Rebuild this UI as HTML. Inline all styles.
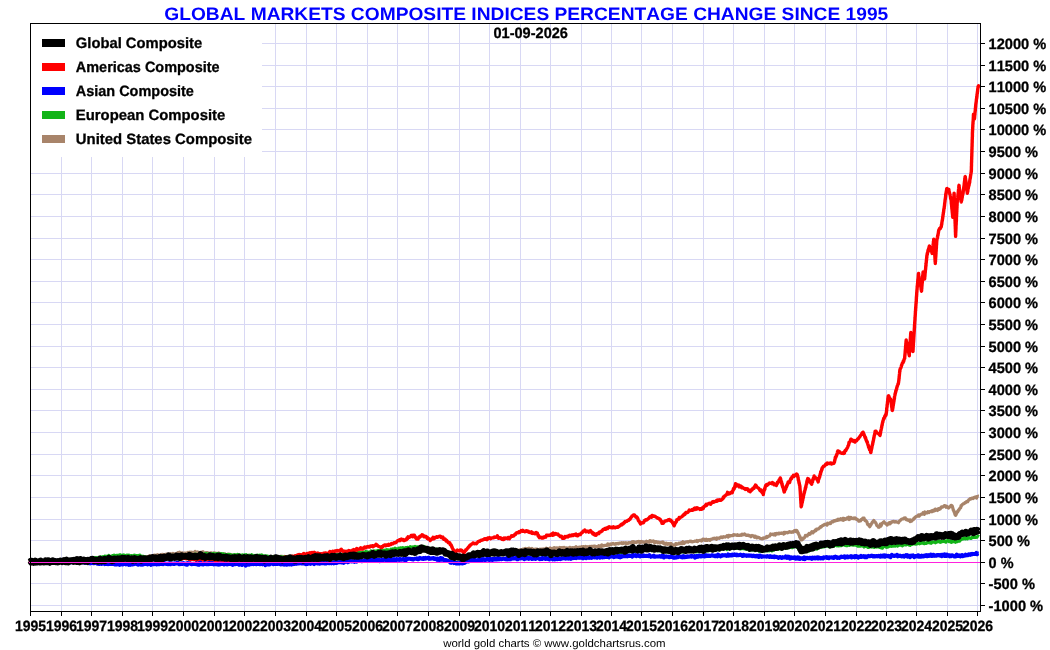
<!DOCTYPE html><html><head><meta charset="utf-8"><style>html,body{margin:0;padding:0;background:#fff;}svg{display:block;}text{font-family:"Liberation Sans",Arial,sans-serif;font-weight:bold;font-kerning:none;text-rendering:geometricPrecision;}text.b{stroke:#000;stroke-width:0.3px;}</style></head><body>
<svg width="1050" height="650" viewBox="0 0 1050 650">
<rect width="1050" height="650" fill="#fff"/>
<path d="M61.5 24V611 M91.5 24V611 M122.5 24V611 M152.5 24V611 M183.5 24V611 M214.5 24V611 M244.5 24V611 M275.5 24V611 M306.5 24V611 M336.5 24V611 M367.5 24V611 M397.5 24V611 M428.5 24V611 M459.5 24V611 M489.5 24V611 M520.5 24V611 M550.5 24V611 M581.5 24V611 M611.5 24V611 M641.5 24V611 M672.5 24V611 M703.5 24V611 M733.5 24V611 M764.5 24V611 M794.5 24V611 M825.5 24V611 M856.5 24V611 M886.5 24V611 M916.5 24V611 M947.5 24V611 M977.5 24V611 M31 43.5H980 M31 65.5H980 M31 86.5H980 M31 108.5H980 M31 129.5H980 M31 151.5H980 M31 173.5H980 M31 194.5H980 M31 216.5H980 M31 238.5H980 M31 259.5H980 M31 281.5H980 M31 302.5H980 M31 324.5H980 M31 346.5H980 M31 367.5H980 M31 389.5H980 M31 410.5H980 M31 432.5H980 M31 454.5H980 M31 475.5H980 M31 497.5H980 M31 519.5H980 M31 540.5H980 M31 562.5H980 M31 583.5H980 M31 605.5H980" stroke="#d8d8f4" stroke-width="1" fill="none"/>
<rect x="31" y="24" width="231" height="133" fill="#fff"/>
<path d="M30.0 562.0 30.6 562.0 31.2 562.1 31.8 561.8 32.4 561.5 33.0 561.7 33.6 561.5 34.2 561.9 34.8 562.5 35.4 561.6 36.0 561.5 36.6 562.0 37.2 562.0 37.8 561.8 38.4 561.3 39.0 561.7 39.6 562.0 40.2 561.1 40.8 561.5 41.4 560.8 42.0 561.1 42.6 560.8 43.2 561.5 43.8 561.0 44.4 561.7 45.0 561.6 45.6 561.5 46.2 560.4 46.8 561.3 47.4 561.5 47.9 561.5 48.5 560.8 49.1 561.2 49.7 561.0 50.3 561.1 50.9 561.9 51.5 561.0 52.1 561.4 52.7 561.7 53.3 561.1 53.9 561.3 54.5 561.3 55.1 561.3 55.7 560.7 56.3 561.3 56.9 561.8 57.5 560.5 58.1 561.6 58.7 561.2 59.3 560.9 59.9 562.0 60.5 561.5 61.1 560.6 61.7 561.1 62.3 561.3 62.9 561.0 63.5 561.4 64.1 561.0 64.7 561.3 65.3 561.6 65.9 560.7 66.5 561.0 67.1 560.7 67.7 561.0 68.3 560.4 68.9 560.6 69.5 560.8 70.1 561.3 70.7 561.4 71.3 560.2 71.9 560.4 72.5 561.1 73.1 559.9 73.7 560.5 74.3 560.7 74.9 561.3 75.5 561.0 76.1 560.5 76.7 560.5 77.3 560.5 77.9 561.3 78.5 560.4 79.1 560.5 79.7 560.7 80.3 560.5 80.9 560.5 81.5 560.0 82.1 560.5 82.6 560.3 83.2 561.0 83.8 560.8 84.4 560.4 85.0 560.7 85.6 560.3 86.2 560.9 86.8 560.4 87.4 560.6 88.0 559.8 88.6 560.5 89.2 559.5 89.8 559.4 90.4 560.1 91.0 559.9 91.6 560.3 92.2 561.2 92.8 559.8 93.4 559.9 94.0 560.3 94.6 560.4 95.2 560.1 95.8 560.0 96.4 560.4 97.0 560.3 97.6 559.6 98.2 560.0 98.8 560.1 99.4 559.5 100.0 560.1 100.6 559.6 101.2 560.4 101.8 560.0 102.4 560.0 103.0 559.6 103.6 559.8 104.2 558.9 104.8 559.3 105.4 560.0 106.0 558.8 106.6 560.1 107.2 558.9 107.8 560.0 108.4 559.3 109.0 560.0 109.6 559.7 110.1 558.9 110.7 560.2 111.3 560.2 111.9 559.5 112.5 559.4 113.1 559.4 113.7 559.0 114.3 560.0 114.9 559.2 115.5 559.4 116.1 559.0 116.7 559.1 117.3 558.8 117.9 559.9 118.5 559.2 119.1 559.7 119.7 559.3 120.3 558.9 120.9 559.1 121.5 558.9 122.1 559.2 122.7 559.0 123.3 559.0 123.9 558.5 124.5 558.7 125.1 559.8 125.7 558.7 126.3 558.5 126.9 559.1 127.5 559.6 128.1 558.3 128.7 558.8 129.3 558.6 129.9 558.1 130.4 559.2 131.0 558.8 131.6 558.8 132.2 558.5 132.8 559.0 133.4 558.5 134.0 558.7 134.6 558.2 135.2 558.1 135.8 559.3 136.4 558.4 137.0 558.7 137.6 558.6 138.2 558.4 138.8 558.3 139.4 558.8 140.0 558.4 140.6 558.3 141.2 558.2 141.8 558.6 142.3 558.2 142.9 557.9 143.5 557.3 144.1 556.8 144.7 557.7 145.2 557.5 145.8 556.9 146.4 557.0 147.0 557.0 147.6 556.9 148.2 556.9 148.8 556.2 149.4 557.0 149.9 555.7 150.5 556.6 151.1 556.4 151.7 556.5 152.3 556.9 152.9 556.7 153.5 555.4 154.1 555.1 154.6 556.2 155.2 555.3 155.8 555.7 156.4 556.0 157.0 554.9 157.6 554.6 158.2 555.6 158.8 555.4 159.4 555.3 159.9 555.3 160.5 554.9 161.1 554.5 161.7 555.1 162.3 554.6 162.9 554.3 163.5 555.2 164.1 554.9 164.6 555.0 165.2 554.3 165.8 554.4 166.4 554.2 167.0 554.2 167.6 554.6 168.2 554.1 168.8 554.6 169.4 554.6 170.0 555.3 170.6 553.7 171.2 554.6 171.8 554.2 172.3 554.1 172.9 553.4 173.5 553.8 174.1 554.3 174.7 553.9 175.3 553.9 175.9 553.7 176.5 554.3 177.1 553.7 177.7 552.7 178.3 553.3 178.9 552.7 179.5 552.1 180.1 553.3 180.7 554.1 181.2 553.4 181.8 552.8 182.4 552.9 183.0 553.8 183.6 553.3 184.2 553.2 184.8 553.1 185.4 553.1 186.0 553.4 186.6 553.2 187.2 553.0 187.8 552.4 188.3 553.1 188.9 552.5 189.5 553.3 190.1 552.2 190.7 552.7 191.2 552.7 191.8 552.1 192.4 553.5 193.0 553.3 193.6 552.4 194.2 552.9 194.8 552.7 195.3 551.4 195.9 552.6 196.5 552.4 197.1 552.5 197.7 551.9 198.2 552.3 198.8 552.3 199.4 552.9 200.0 552.5 200.6 552.3 201.2 553.1 201.8 552.2 202.4 552.3 203.0 551.7 203.6 553.2 204.2 553.0 204.8 553.0 205.4 553.0 206.0 552.7 206.6 552.8 207.2 552.7 207.8 552.7 208.4 552.9 209.0 553.6 209.6 553.2 210.2 553.0 210.8 552.8 211.4 552.8 212.0 553.8 212.6 553.4 213.2 553.2 213.8 553.1 214.4 552.8 215.0 553.3 215.6 553.8 216.2 553.3 216.8 553.4 217.4 553.5 218.0 553.7 218.6 553.0 219.2 553.6 219.8 553.4 220.4 554.3 221.0 553.6 221.5 554.3 222.1 554.8 222.7 554.0 223.3 553.9 223.9 554.4 224.5 554.3 225.1 553.9 225.7 554.7 226.3 555.4 226.9 554.5 227.5 554.6 228.1 554.2 228.7 554.9 229.3 554.3 229.9 554.4 230.5 555.5 231.1 554.6 231.7 555.6 232.3 555.9 232.9 555.3 233.5 555.5 234.0 556.2 234.6 555.3 235.2 555.2 235.8 554.9 236.4 555.6 237.0 556.3 237.6 556.2 238.2 555.4 238.8 555.5 239.4 555.7 240.0 556.1 240.6 555.9 241.2 556.2 241.8 556.2 242.4 556.0 243.0 556.1 243.6 556.3 244.2 556.2 244.8 556.4 245.4 557.1 246.0 556.5 246.6 556.3 247.2 555.6 247.8 556.5 248.3 555.5 248.9 555.8 249.5 556.8 250.1 556.8 250.7 556.4 251.3 555.7 251.9 556.4 252.5 556.3 253.1 556.9 253.7 557.6 254.3 556.7 254.9 556.3 255.5 556.2 256.1 556.7 256.7 556.7 257.3 556.3 257.9 556.9 258.5 556.3 259.1 557.4 259.7 557.4 260.3 557.4 260.9 556.7 261.5 557.2 262.1 556.9 262.7 556.8 263.2 556.9 263.8 556.5 264.4 556.5 265.0 557.5 265.6 557.1 266.2 557.3 266.8 557.7 267.4 556.5 268.0 556.9 268.6 557.4 269.2 557.5 269.8 557.2 270.4 557.8 271.0 557.5 271.6 556.8 272.2 556.9 272.8 557.7 273.4 557.5 274.0 556.4 274.6 557.9 275.1 557.5 275.7 557.8 276.3 557.0 276.9 557.0 277.5 556.6 278.1 558.3 278.7 557.0 279.3 557.8 279.9 556.8 280.5 557.1 281.1 556.3 281.7 556.8 282.2 557.4 282.8 556.4 283.4 557.4 284.0 557.1 284.6 556.4 285.2 556.6 285.8 556.6 286.4 556.8 287.0 556.6 287.6 556.4 288.2 556.6 288.8 556.3 289.3 556.1 289.9 556.7 290.5 557.1 291.1 555.9 291.7 556.6 292.3 556.3 292.9 556.1 293.5 556.9 294.1 556.3 294.7 557.2 295.3 556.1 295.9 556.6 296.4 556.3 297.0 556.1 297.6 556.7 298.2 556.3 298.8 556.6 299.4 556.3 300.0 555.8 300.6 556.2 301.2 556.3 301.8 556.7 302.4 555.9 303.0 556.3 303.6 555.5 304.2 556.6 304.8 555.8 305.4 555.4 306.0 556.2 306.6 556.7 307.2 555.6 307.8 555.8 308.4 555.9 309.0 555.7 309.6 556.4 310.1 555.9 310.7 555.9 311.3 556.5 311.9 555.9 312.5 556.4 313.1 555.8 313.7 555.7 314.3 555.4 314.9 557.0 315.5 556.0 316.1 556.3 316.7 556.2 317.3 556.2 317.9 556.2 318.5 557.0 319.1 555.7 319.7 555.5 320.3 555.7 320.9 555.5 321.5 556.5 322.1 556.5 322.7 555.7 323.3 555.5 323.9 556.0 324.5 556.7 325.1 554.8 325.7 556.3 326.3 555.6 326.9 556.6 327.5 555.6 328.1 556.0 328.7 555.4 329.3 555.6 329.9 556.7 330.4 556.4 331.0 555.9 331.6 555.7 332.2 555.2 332.8 555.9 333.4 556.0 334.0 556.0 334.6 556.0 335.2 555.5 335.8 556.0 336.4 556.0 337.0 556.6 337.6 556.9 338.2 556.0 338.8 555.7 339.4 556.0 340.0 555.7 340.6 555.6 341.2 555.9 341.8 555.4 342.4 556.1 343.0 555.8 343.6 555.9 344.2 555.7 344.8 555.4 345.4 555.3 346.0 555.5 346.6 555.4 347.2 555.7 347.8 555.5 348.4 554.9 349.0 555.5 349.6 554.8 350.2 555.1 350.8 555.2 351.4 554.4 352.0 555.3 352.6 555.3 353.2 555.2 353.8 555.0 354.4 555.0 355.0 554.7 355.6 555.0 356.2 554.8 356.8 555.1 357.4 554.4 358.0 555.1 358.6 555.0 359.2 554.8 359.8 554.6 360.4 555.1 361.0 554.0 361.6 554.9 362.2 554.8 362.8 554.8 363.4 554.8 364.0 554.3 364.6 554.4 365.2 554.8 365.8 554.7 366.4 554.6 367.0 553.7 367.6 554.6 368.2 554.9 368.8 554.8 369.4 554.4 370.0 553.5 370.6 554.6 371.2 554.1 371.8 553.0 372.4 554.3 373.0 553.4 373.6 553.5 374.2 553.7 374.8 554.5 375.4 553.8 376.0 554.0 376.6 554.7 377.2 554.5 377.8 553.7 378.4 553.7 379.0 553.2 379.6 553.4 380.2 553.8 380.8 553.8 381.4 553.6 382.0 554.0 382.6 553.2 383.2 553.5 383.8 553.8 384.4 553.7 385.0 553.9 385.6 553.5 386.2 553.2 386.8 553.4 387.4 552.8 388.0 552.5 388.6 553.4 389.2 553.1 389.8 553.2 390.4 552.3 391.0 552.9 391.6 552.7 392.2 552.6 392.8 551.9 393.4 552.7 394.0 553.3 394.6 553.0 395.2 552.5 395.8 552.7 396.4 553.1 397.0 551.4 397.6 552.6 398.2 552.8 398.8 552.9 399.4 553.3 400.0 553.0 400.6 552.6 401.2 552.5 401.8 552.6 402.4 551.9 402.9 552.1 403.5 552.4 404.1 552.8 404.7 551.8 405.3 551.8 405.9 551.8 406.5 552.3 407.1 551.6 407.7 552.2 408.3 551.0 408.8 551.3 409.4 551.2 410.0 551.5 410.6 551.6 411.2 550.4 411.8 550.5 412.4 551.0 413.0 550.5 413.6 550.0 414.2 551.1 414.7 550.8 415.3 550.7 415.9 550.2 416.5 550.8 417.1 550.2 417.7 550.7 418.3 549.7 418.9 549.7 419.5 550.1 420.1 549.6 420.6 550.1 421.2 549.8 421.8 549.2 422.4 549.6 423.0 549.3 423.6 549.9 424.2 549.3 424.8 549.4 425.3 550.2 425.9 550.7 426.5 550.6 427.1 549.8 427.7 549.9 428.3 550.5 428.9 549.8 429.4 549.4 430.0 550.0 430.6 550.2 431.2 549.6 431.8 549.3 432.4 549.4 433.0 550.4 433.6 549.8 434.1 550.1 434.7 550.3 435.3 550.5 435.9 550.1 436.5 550.5 437.1 549.9 437.7 550.2 438.2 549.9 438.8 550.9 439.4 550.5 440.0 550.2 440.6 550.6 441.2 550.9 441.8 551.5 442.4 550.7 443.0 551.2 443.6 551.8 444.2 553.3 444.8 552.9 445.4 552.6 446.0 553.2 446.6 554.1 447.2 553.3 447.8 553.5 448.4 554.4 449.0 554.3 449.6 554.6 450.2 554.4 450.8 555.7 451.4 555.8 452.0 555.6 452.6 555.8 453.2 554.9 453.8 556.3 454.4 556.2 455.0 556.7 455.6 556.9 456.1 556.5 456.7 556.0 457.3 557.0 457.9 556.5 458.4 556.8 459.0 556.7 459.6 556.9 460.1 556.1 460.7 557.8 461.3 557.4 461.9 557.9 462.4 558.3 463.0 557.5 463.6 556.6 464.2 556.9 464.8 556.6 465.3 556.8 465.9 556.9 466.5 555.9 467.1 556.8 467.7 555.9 468.3 556.5 468.9 556.2 469.4 556.0 470.0 556.0 470.6 555.7 471.2 555.5 471.8 554.9 472.4 555.6 473.0 556.3 473.6 556.2 474.1 555.8 474.7 555.4 475.3 554.7 475.9 555.5 476.5 554.7 477.1 554.6 477.7 554.4 478.2 554.4 478.8 554.0 479.4 554.1 480.0 553.5 480.6 553.8 481.2 554.9 481.8 553.8 482.4 553.7 482.9 553.9 483.5 554.0 484.1 553.1 484.7 553.4 485.3 553.9 485.9 553.5 486.5 553.4 487.1 554.0 487.6 552.9 488.2 553.2 488.8 552.9 489.4 553.7 490.0 552.1 490.6 552.6 491.2 552.6 491.8 553.1 492.4 553.0 492.9 553.3 493.5 551.9 494.1 552.9 494.7 552.4 495.3 552.2 495.9 552.7 496.5 551.9 497.1 551.4 497.6 552.1 498.2 551.5 498.8 551.8 499.4 552.2 500.0 552.1 500.6 552.7 501.2 551.9 501.8 551.2 502.3 551.6 502.9 551.5 503.5 551.3 504.1 552.0 504.7 551.5 505.2 550.9 505.8 552.1 506.4 551.7 507.0 551.9 507.6 551.7 508.2 551.9 508.8 551.6 509.3 552.2 509.9 551.8 510.5 551.7 511.1 551.7 511.7 550.8 512.2 551.4 512.8 551.3 513.4 551.5 514.0 550.8 514.6 552.0 515.2 551.2 515.8 550.5 516.4 550.1 517.0 550.6 517.6 550.6 518.2 550.2 518.8 550.4 519.4 550.0 520.0 550.4 520.6 549.7 521.2 549.9 521.8 550.2 522.4 550.8 523.0 549.1 523.6 549.2 524.2 548.9 524.8 549.5 525.4 548.5 526.0 548.7 526.6 548.9 527.2 548.5 527.8 548.6 528.4 548.8 529.0 548.2 529.6 548.5 530.2 549.0 530.8 549.3 531.4 549.2 532.0 548.5 532.6 549.1 533.2 549.7 533.8 549.7 534.4 549.4 535.0 549.1 535.6 549.8 536.2 549.3 536.8 549.1 537.4 549.3 538.0 550.4 538.6 549.7 539.2 550.1 539.8 549.3 540.3 549.9 540.9 549.1 541.5 549.3 542.1 550.4 542.7 549.6 543.3 548.9 543.9 549.1 544.4 549.2 545.0 549.5 545.6 548.7 546.2 548.1 546.8 548.7 547.4 548.8 548.0 548.8 548.6 549.2 549.1 548.7 549.7 548.9 550.3 548.0 550.9 548.8 551.5 549.3 552.1 548.6 552.7 548.3 553.2 548.2 553.8 548.9 554.4 547.6 555.0 548.0 555.6 548.2 556.2 548.3 556.8 547.8 557.3 548.1 557.9 547.9 558.5 548.1 559.1 547.9 559.7 547.5 560.3 548.0 560.9 548.4 561.5 547.6 562.0 547.9 562.6 548.3 563.2 547.5 563.8 548.1 564.4 547.5 565.0 548.5 565.6 549.0 566.2 548.9 566.7 547.9 567.3 548.3 567.9 548.1 568.5 548.0 569.1 548.7 569.7 547.3 570.3 548.4 570.8 547.8 571.4 548.5 572.0 547.9 572.6 547.5 573.2 547.8 573.8 548.0 574.4 547.7 575.0 547.8 575.5 547.3 576.1 546.6 576.7 547.9 577.3 547.8 577.9 547.5 578.5 547.4 579.1 547.8 579.7 547.1 580.2 547.0 580.8 547.2 581.4 547.8 582.0 546.6 582.6 547.7 583.2 546.8 583.8 546.6 584.4 547.6 585.0 547.0 585.6 546.4 586.2 546.8 586.8 547.3 587.4 547.4 588.0 546.6 588.6 546.9 589.2 547.0 589.8 546.4 590.4 546.8 591.0 546.6 591.6 546.3 592.2 546.3 592.8 546.5 593.4 546.5 594.0 546.1 594.6 546.2 595.2 546.8 595.8 546.4 596.4 546.6 597.0 546.7 597.6 546.4 598.2 547.1 598.8 545.7 599.4 546.4 600.0 545.9 600.6 546.7 601.2 546.6 601.8 544.9 602.4 545.2 603.0 545.9 603.6 545.8 604.2 545.7 604.8 545.3 605.4 545.4 606.0 545.4 606.6 545.0 607.2 545.4 607.8 543.9 608.4 545.1 609.0 544.2 609.5 545.0 610.1 544.4 610.7 544.0 611.3 544.5 611.9 543.8 612.5 543.8 613.1 543.4 613.7 544.0 614.3 544.1 614.9 544.3 615.5 543.7 616.1 544.1 616.7 543.6 617.3 543.4 617.9 543.6 618.5 543.8 619.1 543.1 619.7 543.1 620.3 543.1 620.9 543.2 621.5 542.7 622.1 543.6 622.7 542.9 623.3 543.3 623.9 542.7 624.5 543.2 625.1 543.2 625.7 542.8 626.3 543.8 626.9 543.1 627.5 543.7 628.0 543.3 628.6 542.5 629.2 542.6 629.8 542.9 630.4 542.7 631.0 542.7 631.6 542.5 632.2 541.8 632.8 542.5 633.4 541.6 634.0 542.7 634.6 542.2 635.2 542.2 635.8 542.4 636.4 542.6 637.0 541.8 637.6 541.6 638.2 541.8 638.8 541.4 639.4 541.8 639.9 542.9 640.5 541.7 641.1 542.4 641.7 541.5 642.3 542.2 642.9 541.9 643.5 541.9 644.1 542.2 644.6 542.7 645.2 541.9 645.8 541.9 646.4 541.3 647.0 542.0 647.6 541.6 648.2 542.0 648.8 541.6 649.3 542.3 649.9 540.6 650.5 541.3 651.1 541.8 651.7 541.2 652.3 541.1 652.9 541.5 653.5 541.0 654.1 541.8 654.7 542.9 655.2 542.4 655.8 541.5 656.4 541.7 657.0 542.0 657.6 542.7 658.2 542.0 658.8 542.1 659.4 542.9 660.0 543.0 660.6 542.5 661.2 542.3 661.7 542.2 662.3 542.6 662.9 542.0 663.5 543.5 664.1 542.9 664.7 543.5 665.3 544.3 665.9 544.1 666.4 543.1 667.0 544.1 667.6 544.4 668.2 543.6 668.8 543.7 669.4 544.2 669.9 543.6 670.5 545.1 671.1 543.5 671.7 544.2 672.3 544.6 672.8 544.8 673.4 545.1 674.0 545.2 674.6 544.8 675.2 545.3 675.8 543.6 676.4 544.4 677.0 543.9 677.6 544.1 678.2 543.9 678.8 543.2 679.4 543.2 680.0 543.7 680.6 543.3 681.2 542.6 681.8 543.7 682.4 543.6 683.0 541.7 683.6 542.5 684.2 543.4 684.7 542.6 685.3 542.3 685.9 542.0 686.5 541.8 687.1 541.9 687.6 541.7 688.2 542.2 688.8 541.6 689.4 541.5 690.0 541.1 690.6 541.6 691.1 541.2 691.7 541.4 692.3 541.9 692.9 541.6 693.5 541.6 694.0 541.4 694.6 541.2 695.2 541.1 695.8 541.0 696.4 541.4 697.0 540.5 697.5 541.5 698.1 540.9 698.7 540.5 699.3 540.5 699.9 540.4 700.4 540.7 701.0 540.2 701.6 541.0 702.2 540.1 702.8 539.3 703.4 539.9 704.0 539.2 704.6 540.0 705.2 540.5 705.8 540.2 706.3 539.2 706.9 539.4 707.5 540.4 708.1 539.7 708.7 539.5 709.3 539.8 709.9 540.4 710.5 539.8 711.1 539.2 711.7 539.2 712.3 539.2 712.9 538.6 713.5 538.3 714.1 538.7 714.7 538.2 715.3 538.5 715.8 538.5 716.4 539.4 717.0 537.9 717.6 538.1 718.2 538.0 718.8 538.2 719.4 538.4 720.0 537.6 720.6 537.3 721.2 536.9 721.8 537.1 722.3 537.6 722.9 537.3 723.5 536.7 724.1 536.9 724.7 537.0 725.3 537.1 725.9 536.5 726.4 536.5 727.0 535.7 727.6 535.9 728.2 537.1 728.8 535.3 729.4 536.0 729.9 536.1 730.5 535.8 731.1 535.5 731.7 535.7 732.3 535.6 732.9 535.5 733.5 534.6 734.0 535.2 734.6 534.8 735.2 534.9 735.8 535.1 736.4 535.3 736.9 535.4 737.5 534.7 738.1 535.3 738.7 535.4 739.2 535.4 739.8 535.5 740.4 534.8 741.0 534.8 741.5 535.2 742.1 534.2 742.7 534.9 743.3 534.5 743.9 534.6 744.4 533.9 745.0 534.3 745.6 534.8 746.2 535.4 746.8 535.5 747.4 535.2 748.0 535.2 748.5 535.1 749.1 535.8 749.7 535.6 750.3 536.1 750.9 536.7 751.5 536.1 752.1 535.5 752.7 535.9 753.3 535.8 753.9 536.0 754.4 537.3 755.0 536.9 755.6 536.3 756.2 537.4 756.8 537.8 757.4 537.2 758.0 537.2 758.6 537.4 759.2 537.8 759.8 538.1 760.3 538.5 760.9 538.6 761.5 538.8 762.1 539.0 762.7 538.8 763.3 537.9 763.9 538.3 764.4 538.2 765.0 537.6 765.6 537.9 766.1 537.0 766.7 536.5 767.2 537.3 767.8 536.7 768.4 536.2 768.9 536.2 769.5 536.0 770.1 535.4 770.6 533.9 771.2 534.4 771.8 534.4 772.4 534.1 773.0 534.5 773.6 534.9 774.2 534.0 774.8 533.7 775.4 535.0 775.9 533.8 776.5 533.3 777.1 533.9 777.7 533.9 778.3 533.3 778.9 533.9 779.5 533.2 780.1 533.0 780.7 533.4 781.3 533.5 781.9 532.8 782.5 533.2 783.1 532.9 783.7 534.1 784.2 532.4 784.8 533.3 785.4 532.5 786.0 532.4 786.6 532.7 787.2 532.7 787.8 532.8 788.4 532.3 789.0 531.8 789.6 531.7 790.2 532.1 790.8 532.0 791.4 532.3 792.0 531.8 792.6 532.0 793.1 532.1 793.7 531.4 794.3 530.6 794.9 530.6 795.5 530.4 796.1 531.7 796.7 530.5 797.3 531.4 797.5 531.6 797.8 532.7 798.0 533.0 798.3 533.1 798.5 533.6 798.8 534.3 799.0 534.9 799.2 535.2 799.5 536.0 799.7 537.3 800.0 536.4 800.2 537.8 800.5 537.9 800.7 538.9 801.0 539.8 801.2 540.0 801.8 539.9 802.4 538.3 803.0 539.1 803.6 537.8 804.2 537.9 804.8 537.2 805.4 535.5 806.0 535.8 806.6 535.8 807.2 535.9 807.8 534.8 808.4 534.5 809.0 533.4 809.5 534.3 810.1 534.2 810.7 533.0 811.3 532.6 811.9 531.6 812.5 532.4 813.0 532.9 813.6 531.7 814.2 531.6 814.8 530.9 815.4 529.9 815.9 530.6 816.5 529.1 817.1 529.2 817.7 529.1 818.3 529.0 818.8 528.5 819.4 528.1 820.0 527.3 820.6 526.7 821.2 527.0 821.8 526.3 822.3 525.7 822.9 525.4 823.5 525.4 824.1 524.5 824.7 524.5 825.3 524.1 825.9 524.7 826.5 524.6 827.0 525.1 827.6 523.2 828.2 523.4 828.8 523.8 829.4 523.1 830.0 522.8 830.6 523.5 831.2 522.3 831.8 521.7 832.4 521.4 833.0 521.9 833.5 521.6 834.1 520.6 834.7 520.6 835.3 521.0 835.9 520.8 836.5 520.0 837.1 520.5 837.7 520.4 838.2 519.2 838.8 519.8 839.4 520.0 840.0 519.5 840.6 518.7 841.2 519.4 841.7 519.8 842.3 520.0 842.9 518.3 843.5 520.3 844.1 518.5 844.6 519.4 845.2 519.4 845.8 519.2 846.4 518.7 847.0 518.0 847.5 518.8 848.1 518.1 848.7 517.1 849.3 519.5 849.9 518.4 850.5 518.8 851.0 517.5 851.6 518.5 852.2 518.4 852.8 518.6 853.4 518.2 854.0 517.9 854.6 518.6 855.2 517.9 855.8 518.4 856.4 519.4 857.0 519.2 857.6 519.8 858.2 520.0 858.8 521.2 859.4 521.1 860.0 520.8 860.6 520.9 861.2 519.5 861.8 519.3 862.3 519.4 862.9 518.0 863.5 518.0 864.0 518.1 864.4 519.3 864.9 520.5 865.3 520.0 865.8 521.0 866.2 521.1 866.6 521.5 867.0 522.0 867.4 523.8 867.8 524.7 868.1 524.4 868.5 524.4 868.9 525.6 869.3 525.7 869.7 526.8 870.1 526.0 870.5 525.4 870.9 525.0 871.3 523.9 871.8 523.4 872.2 522.3 872.6 522.3 873.0 521.3 873.4 521.3 873.8 520.4 874.2 521.4 874.7 522.1 875.1 521.9 875.6 522.7 876.0 523.2 876.5 524.6 876.9 525.6 877.4 525.8 877.8 525.8 878.3 527.2 878.7 526.4 879.2 527.2 879.8 525.7 880.3 524.2 880.8 526.1 881.4 525.1 881.9 523.4 882.4 523.4 883.0 522.6 883.5 522.2 884.0 521.8 884.5 522.4 885.1 523.2 885.6 523.4 886.1 524.1 886.7 523.8 887.2 525.1 887.7 524.0 888.2 524.1 888.8 522.9 889.4 522.9 889.9 523.8 890.5 522.5 891.0 522.9 891.6 522.3 892.1 521.6 892.7 521.6 893.2 521.3 893.8 521.4 894.4 522.0 895.0 522.1 895.6 521.6 896.2 521.6 896.8 522.2 897.4 522.2 898.0 522.3 898.5 522.7 899.1 521.6 899.7 520.8 900.3 520.4 900.8 519.8 901.4 519.4 902.0 519.0 902.6 518.9 903.1 518.6 903.7 518.8 904.3 517.9 904.9 518.2 905.4 518.0 906.0 519.5 906.6 519.2 907.2 520.0 907.8 519.8 908.3 520.3 908.9 519.8 909.5 520.4 910.1 521.6 910.6 520.0 911.2 521.3 911.8 521.1 912.3 520.1 912.9 519.8 913.4 519.6 914.0 518.2 914.6 518.3 915.1 517.3 915.7 516.9 916.2 516.5 916.8 516.2 917.4 516.1 917.9 516.0 918.5 514.9 919.1 516.2 919.7 515.5 920.2 515.1 920.8 514.3 921.4 514.2 922.0 514.2 922.6 513.9 923.1 512.7 923.7 513.5 924.3 514.4 924.9 512.0 925.5 513.2 926.1 512.8 926.7 512.4 927.3 512.9 927.9 511.6 928.4 512.1 929.0 512.5 929.6 511.6 930.2 511.4 930.8 511.5 931.4 511.0 932.0 511.8 932.5 510.6 933.1 511.2 933.6 510.1 934.2 510.9 934.8 510.4 935.3 509.1 935.9 510.2 936.4 509.6 937.0 509.7 937.5 510.5 938.1 508.9 938.6 508.6 939.2 509.4 939.8 508.5 940.4 508.8 941.0 507.8 941.5 506.9 942.1 507.0 942.7 507.2 943.2 506.7 943.8 506.0 944.4 505.6 944.9 505.8 945.5 505.9 946.0 507.3 946.5 506.7 947.0 506.4 947.5 507.0 948.1 507.8 948.6 508.0 949.2 507.3 949.8 506.7 950.4 506.7 950.9 505.5 951.5 505.3 952.1 506.0 952.3 506.0 952.5 506.9 952.7 507.9 952.9 508.2 953.0 508.5 953.2 510.1 953.4 510.0 953.6 510.1 953.8 511.1 954.0 511.6 954.2 511.6 954.4 512.6 954.6 513.0 954.7 512.8 954.9 514.2 955.1 514.7 955.3 515.2 955.5 515.2 955.7 515.3 956.0 514.8 956.2 514.3 956.4 513.1 956.7 513.4 956.9 511.9 957.3 511.8 957.7 511.9 958.2 510.4 958.6 509.9 959.0 510.1 959.4 508.8 959.9 508.3 960.3 507.9 960.7 507.7 961.1 505.6 961.6 505.7 962.0 505.0 962.4 504.4 963.0 504.1 963.6 503.6 964.2 503.7 964.8 502.7 965.4 502.7 966.0 502.4 966.5 501.5 967.1 501.4 967.7 501.7 968.3 500.6 968.9 499.7 969.5 499.6 970.1 498.7 970.7 498.8 971.3 498.9 971.9 498.0 972.4 498.1 973.0 498.5 973.6 497.6 974.2 497.8 974.8 497.0 975.3 497.0 975.9 496.9 976.5 498.0 977.1 496.6 977.6 496.4 978.2 496.2 978.8 496.3" stroke="#a8846a" stroke-width="3.2" fill="none" stroke-linejoin="round"/>
<path d="M30.0 561.7 30.6 561.6 31.2 562.0 31.8 561.8 32.4 562.6 33.0 561.7 33.6 562.3 34.2 561.8 34.8 561.9 35.4 561.0 36.0 561.5 36.6 561.6 37.2 561.5 37.8 560.6 38.4 562.0 39.0 561.4 39.6 561.3 40.2 561.4 40.8 561.4 41.4 561.7 42.0 560.9 42.6 561.1 43.2 561.6 43.8 561.5 44.4 561.3 45.0 561.2 45.6 561.1 46.2 561.4 46.8 562.0 47.4 560.9 48.0 562.1 48.6 561.8 49.2 561.2 49.8 561.7 50.4 560.7 51.0 560.6 51.6 560.8 52.2 561.1 52.8 561.2 53.4 561.1 54.0 561.3 54.6 560.3 55.2 561.5 55.8 560.6 56.4 561.0 57.0 561.1 57.6 560.7 58.2 560.6 58.8 560.8 59.4 561.2 60.0 561.5 60.6 561.4 61.2 560.7 61.8 560.7 62.4 560.6 63.0 561.2 63.6 560.0 64.2 561.5 64.8 560.7 65.4 560.5 66.0 561.0 66.6 561.2 67.2 560.9 67.8 561.2 68.4 560.7 69.0 561.2 69.6 561.1 70.2 560.5 70.8 561.1 71.4 560.5 72.0 560.4 72.6 559.9 73.2 560.2 73.8 560.6 74.4 559.6 75.0 560.5 75.6 560.3 76.2 560.2 76.8 559.1 77.4 560.0 78.0 560.3 78.6 559.6 79.2 560.0 79.8 558.8 80.4 560.1 81.0 559.5 81.6 560.2 82.2 558.9 82.8 560.0 83.4 559.5 84.0 560.0 84.6 559.1 85.2 559.2 85.8 560.5 86.4 559.1 87.0 559.1 87.6 559.2 88.2 558.9 88.8 559.8 89.4 560.0 90.0 558.9 90.6 558.3 91.2 559.5 91.8 559.4 92.3 559.2 92.9 559.2 93.5 558.2 94.1 558.4 94.7 557.8 95.3 557.7 95.9 558.6 96.4 557.8 97.0 559.0 97.6 557.9 98.2 557.5 98.8 558.1 99.4 558.4 100.0 557.7 100.6 556.9 101.1 557.5 101.7 557.8 102.3 556.9 102.9 556.7 103.5 557.4 104.1 556.9 104.7 556.2 105.2 556.4 105.8 556.2 106.4 556.5 107.0 556.3 107.6 556.8 108.2 556.6 108.8 555.5 109.4 556.4 110.0 556.6 110.6 556.4 111.2 556.6 111.8 555.9 112.4 555.7 113.0 556.5 113.6 555.6 114.2 555.1 114.8 556.5 115.4 555.7 116.0 555.8 116.6 555.3 117.2 555.3 117.8 555.4 118.4 555.7 119.0 556.0 119.6 554.8 120.2 556.1 120.8 555.2 121.4 555.3 122.0 556.0 122.6 555.7 123.2 555.0 123.8 556.5 124.4 555.2 125.0 555.7 125.6 555.7 126.2 556.2 126.8 555.3 127.4 556.0 128.0 555.2 128.6 556.0 129.2 555.2 129.8 555.4 130.4 556.5 131.0 555.8 131.6 555.7 132.2 556.7 132.8 555.9 133.4 555.4 134.0 556.1 134.6 555.2 135.2 556.3 135.8 556.4 136.4 555.6 137.0 555.6 137.6 556.0 138.2 555.9 138.8 555.5 139.4 556.2 140.0 555.1 140.6 556.0 141.2 556.2 141.8 556.4 142.3 556.8 142.9 556.3 143.5 557.3 144.1 557.1 144.7 557.0 145.2 556.9 145.8 557.1 146.4 558.0 147.0 557.6 147.6 558.0 148.2 558.4 148.8 558.4 149.4 558.6 150.0 557.8 150.5 557.4 151.1 558.3 151.7 558.0 152.3 558.3 152.9 557.8 153.5 558.3 154.1 558.1 154.7 558.0 155.3 557.9 155.9 557.8 156.5 557.7 157.0 557.7 157.6 558.0 158.2 557.3 158.8 558.3 159.4 557.5 160.0 557.9 160.6 557.4 161.2 557.3 161.8 558.3 162.4 557.2 162.9 556.7 163.5 556.9 164.1 557.0 164.7 558.1 165.3 557.1 165.9 557.4 166.5 556.5 167.1 557.0 167.7 557.1 168.3 557.6 168.8 556.4 169.4 557.0 170.0 556.8 170.6 556.1 171.2 556.5 171.8 556.4 172.4 555.4 173.0 556.6 173.6 556.6 174.2 556.1 174.7 555.6 175.3 556.8 175.9 556.2 176.5 556.5 177.1 556.6 177.7 555.7 178.3 556.3 178.9 555.8 179.5 555.8 180.1 555.7 180.6 555.7 181.2 556.2 181.8 555.7 182.4 555.5 183.0 555.4 183.6 555.6 184.2 555.0 184.8 555.2 185.3 555.3 185.9 555.1 186.5 555.2 187.1 555.0 187.7 556.1 188.3 555.8 188.9 555.4 189.4 555.1 190.0 556.1 190.6 555.2 191.2 555.0 191.8 555.1 192.4 555.1 193.0 555.5 193.6 554.9 194.1 555.8 194.7 554.4 195.3 555.1 195.9 554.3 196.5 555.5 197.1 554.5 197.7 554.6 198.2 555.0 198.8 555.1 199.4 554.0 200.0 554.3 200.6 553.9 201.2 554.5 201.8 554.4 202.4 554.3 203.0 554.1 203.6 554.2 204.2 554.0 204.8 554.6 205.4 555.0 206.0 553.4 206.6 554.2 207.2 554.1 207.8 554.5 208.4 553.8 209.0 554.1 209.6 553.7 210.2 554.5 210.8 554.2 211.4 554.0 212.0 554.3 212.6 554.0 213.2 553.4 213.8 554.3 214.4 554.1 215.0 553.9 215.6 554.5 216.2 554.6 216.8 553.6 217.4 553.8 218.0 554.9 218.6 554.8 219.2 553.9 219.8 553.7 220.4 554.0 220.9 554.1 221.5 553.7 222.1 554.4 222.7 553.9 223.3 553.9 223.9 554.9 224.5 554.3 225.1 554.6 225.7 554.9 226.3 555.0 226.9 554.6 227.5 554.8 228.1 554.4 228.7 555.6 229.3 555.1 229.9 554.4 230.5 554.9 231.1 555.3 231.6 555.2 232.2 555.8 232.8 555.7 233.4 554.8 234.0 555.1 234.6 554.6 235.2 555.3 235.8 555.3 236.4 556.5 237.0 555.3 237.6 554.4 238.2 555.0 238.8 555.4 239.4 554.8 239.9 555.0 240.5 555.2 241.1 555.5 241.7 555.3 242.3 555.0 242.9 555.8 243.5 555.2 244.1 555.2 244.7 554.8 245.3 555.1 245.8 555.8 246.4 554.8 247.0 555.5 247.6 555.9 248.2 555.4 248.8 555.7 249.4 555.1 250.0 556.2 250.6 556.1 251.2 555.7 251.7 554.8 252.3 555.2 252.9 556.1 253.5 556.4 254.1 555.8 254.7 556.2 255.3 555.4 255.9 555.6 256.5 555.7 257.1 555.9 257.6 555.1 258.2 556.2 258.8 556.4 259.4 555.3 260.0 555.2 260.6 556.0 261.2 555.6 261.8 554.9 262.4 556.4 262.9 556.1 263.5 555.9 264.1 557.1 264.7 556.3 265.3 555.9 265.9 556.3 266.5 555.9 267.1 556.1 267.6 556.6 268.2 556.3 268.8 556.3 269.4 557.4 270.0 557.0 270.6 557.1 271.2 557.0 271.8 557.0 272.4 557.5 272.9 556.9 273.5 557.8 274.1 556.6 274.7 556.9 275.3 556.5 275.9 557.0 276.5 557.4 277.1 557.9 277.6 557.0 278.2 557.4 278.8 557.2 279.4 557.1 280.0 557.0 280.6 557.5 281.2 556.7 281.8 557.6 282.4 557.5 282.9 557.2 283.5 557.1 284.1 556.9 284.7 558.4 285.3 557.0 285.9 558.3 286.5 557.9 287.1 557.4 287.6 557.1 288.2 558.1 288.8 558.4 289.4 557.2 290.0 557.5 290.6 558.1 291.2 557.8 291.8 558.6 292.4 557.4 292.9 557.9 293.5 557.1 294.1 558.7 294.7 557.4 295.3 556.7 295.9 557.7 296.5 557.7 297.1 558.6 297.6 557.6 298.2 557.8 298.8 558.0 299.4 558.5 300.0 557.8 300.6 558.2 301.2 558.0 301.8 557.5 302.4 557.7 303.0 557.6 303.6 557.1 304.2 558.1 304.8 556.9 305.3 558.0 305.9 557.8 306.5 557.3 307.1 557.0 307.7 557.2 308.3 557.4 308.9 557.5 309.5 557.3 310.1 557.6 310.7 556.8 311.3 557.1 311.9 556.3 312.5 557.3 313.1 557.0 313.7 556.7 314.3 557.3 314.9 557.1 315.4 555.5 316.0 556.7 316.6 556.0 317.2 557.1 317.8 557.7 318.4 556.3 319.0 556.5 319.6 556.3 320.2 556.6 320.8 556.7 321.4 556.9 322.0 555.9 322.6 557.0 323.2 555.8 323.8 556.3 324.4 556.7 325.0 556.4 325.6 555.6 326.1 555.7 326.7 555.8 327.3 555.9 327.9 556.4 328.5 555.3 329.1 556.0 329.7 556.0 330.3 556.0 330.9 555.9 331.5 556.3 332.1 555.8 332.7 556.0 333.3 555.8 333.9 556.3 334.5 554.6 335.1 556.0 335.7 555.2 336.2 555.2 336.8 554.8 337.4 554.4 338.0 555.0 338.6 554.9 339.2 555.3 339.8 554.4 340.4 555.7 341.0 555.1 341.6 554.8 342.2 554.6 342.8 554.5 343.4 554.2 343.9 554.4 344.5 554.6 345.1 554.5 345.7 553.9 346.3 554.3 346.9 554.0 347.5 554.4 348.1 555.1 348.7 554.4 349.3 554.0 349.8 553.3 350.4 553.3 351.0 553.2 351.6 554.2 352.2 553.4 352.8 553.7 353.4 553.4 354.0 553.6 354.6 554.2 355.2 553.2 355.7 553.2 356.3 553.0 356.9 553.7 357.5 552.7 358.1 552.6 358.7 552.5 359.3 552.4 359.9 553.2 360.5 554.0 361.1 552.4 361.6 553.2 362.2 552.8 362.8 552.1 363.4 552.4 364.0 552.4 364.6 552.1 365.2 553.3 365.8 551.5 366.3 552.5 366.9 552.4 367.5 551.9 368.1 552.2 368.7 552.5 369.3 552.1 369.9 552.2 370.4 552.2 371.0 551.0 371.6 552.5 372.2 552.8 372.8 552.2 373.4 552.1 374.0 551.0 374.6 551.5 375.1 551.2 375.7 551.2 376.3 551.8 376.9 551.0 377.5 551.3 378.1 550.4 378.7 551.1 379.2 551.2 379.8 550.8 380.4 550.7 381.0 551.8 381.6 550.4 382.2 550.4 382.8 550.4 383.3 551.2 383.9 551.5 384.5 550.6 385.1 550.1 385.7 550.1 386.3 550.7 386.9 549.7 387.4 550.7 388.0 550.6 388.6 549.9 389.2 550.1 389.8 550.0 390.4 550.3 391.0 549.1 391.6 550.0 392.1 549.2 392.7 548.9 393.3 549.2 393.9 549.0 394.5 548.6 395.1 548.2 395.7 548.4 396.2 549.4 396.8 549.6 397.4 548.9 398.0 549.0 398.6 548.2 399.2 548.4 399.8 548.5 400.3 547.8 400.9 547.8 401.5 548.2 402.1 548.0 402.7 547.6 403.3 548.2 403.9 547.9 404.4 548.4 405.0 547.9 405.6 547.7 406.2 547.8 406.8 547.6 407.4 547.4 408.0 547.4 408.6 547.9 409.1 547.8 409.7 548.0 410.3 546.7 410.9 547.2 411.5 547.1 412.1 547.3 412.7 547.0 413.2 546.9 413.8 547.5 414.4 547.1 415.0 546.5 415.6 547.7 416.2 547.6 416.8 546.9 417.4 547.6 418.0 547.0 418.6 547.9 419.2 547.4 419.8 547.2 420.4 547.4 421.0 547.3 421.5 547.8 422.1 547.9 422.7 547.9 423.3 547.7 423.9 546.4 424.5 548.1 425.1 547.3 425.7 548.3 426.3 548.8 426.9 548.5 427.5 548.2 428.1 548.4 428.7 548.5 429.3 548.4 429.9 548.4 430.5 548.3 431.1 549.3 431.7 548.9 432.3 549.4 432.9 548.9 433.5 549.1 434.0 549.1 434.6 549.4 435.2 549.6 435.8 549.4 436.4 549.1 437.0 549.1 437.6 550.3 438.2 549.5 438.8 549.5 439.4 550.4 440.0 550.3 440.6 550.3 441.2 550.1 441.8 551.6 442.4 551.0 443.0 551.3 443.6 551.2 444.2 550.9 444.8 551.2 445.4 552.2 446.0 552.5 446.6 552.4 447.2 552.2 447.8 552.4 448.4 553.1 449.0 552.9 449.6 554.2 450.2 554.5 450.8 555.5 451.4 554.9 452.0 554.5 452.6 554.6 453.2 553.7 453.8 555.2 454.4 555.7 455.0 556.4 455.6 556.3 456.1 556.4 456.7 556.3 457.3 556.6 457.9 557.0 458.4 555.9 459.0 556.3 459.6 555.9 460.1 557.4 460.7 557.3 461.3 557.1 461.9 556.3 462.4 557.0 463.0 556.9 463.6 557.0 464.2 556.7 464.8 557.0 465.3 556.5 465.9 557.0 466.5 556.6 467.1 556.3 467.7 556.3 468.3 556.0 468.9 556.5 469.4 555.9 470.0 556.1 470.6 555.7 471.2 555.1 471.8 556.1 472.4 555.1 473.0 555.8 473.6 555.6 474.1 554.6 474.7 554.9 475.3 555.0 475.9 554.7 476.5 554.5 477.1 555.3 477.7 554.7 478.2 554.9 478.8 554.5 479.4 554.7 480.0 554.2 480.6 554.5 481.2 554.7 481.8 554.4 482.4 554.2 482.9 553.9 483.5 554.4 484.1 554.4 484.7 554.1 485.3 553.9 485.9 554.5 486.5 555.3 487.1 554.0 487.6 554.3 488.2 554.3 488.8 552.9 489.4 554.1 490.0 553.7 490.6 554.6 491.2 553.8 491.8 553.6 492.4 553.8 492.9 553.9 493.5 553.6 494.1 553.8 494.7 553.2 495.3 553.6 495.9 554.1 496.5 554.6 497.1 554.0 497.6 553.7 498.2 554.1 498.8 554.0 499.4 554.3 500.0 554.0 500.6 553.4 501.2 553.6 501.8 553.6 502.4 553.6 503.0 553.6 503.5 553.1 504.1 552.6 504.7 553.2 505.3 552.6 505.9 553.5 506.5 553.5 507.1 552.7 507.7 553.8 508.3 553.9 508.9 553.5 509.5 554.3 510.0 554.3 510.6 553.0 511.2 554.0 511.8 553.7 512.4 553.7 513.0 553.9 513.6 553.2 514.2 553.2 514.8 553.1 515.4 553.2 516.0 553.5 516.5 552.8 517.1 553.0 517.7 553.8 518.3 553.5 518.9 553.7 519.5 552.6 520.1 553.1 520.7 553.3 521.3 553.5 521.9 553.2 522.5 553.9 523.0 553.5 523.6 553.5 524.2 553.5 524.8 553.8 525.4 553.3 526.0 554.0 526.6 553.7 527.2 553.6 527.8 553.6 528.4 553.8 529.0 554.1 529.5 554.1 530.1 553.8 530.7 554.1 531.3 553.8 531.9 554.3 532.5 553.7 533.1 552.8 533.7 554.4 534.3 553.9 534.9 553.3 535.5 553.8 536.0 553.5 536.6 554.9 537.2 554.2 537.8 553.2 538.4 554.2 539.0 553.8 539.6 554.9 540.2 553.6 540.8 553.1 541.4 554.1 542.0 554.0 542.5 553.9 543.1 553.2 543.7 554.4 544.3 555.0 544.9 553.4 545.5 554.8 546.1 554.0 546.7 555.4 547.3 554.5 547.9 554.3 548.5 554.9 549.0 554.6 549.6 554.1 550.2 554.8 550.8 554.2 551.4 553.7 552.0 555.4 552.6 554.3 553.2 554.2 553.8 554.6 554.4 553.7 555.0 553.8 555.6 554.2 556.2 554.2 556.8 554.4 557.4 554.9 558.0 554.2 558.6 554.6 559.2 554.6 559.8 553.8 560.4 554.4 561.0 553.9 561.6 554.8 562.2 554.5 562.8 554.3 563.4 553.7 564.0 554.3 564.6 553.9 565.2 554.5 565.8 554.2 566.4 553.8 567.0 554.6 567.6 554.5 568.2 553.9 568.8 554.7 569.4 554.0 570.0 554.0 570.6 554.2 571.2 553.8 571.8 553.9 572.4 554.0 573.0 554.8 573.6 554.7 574.2 553.9 574.8 554.7 575.4 554.0 576.0 554.2 576.6 554.4 577.2 554.1 577.8 555.0 578.4 554.1 579.0 553.4 579.6 554.5 580.2 553.7 580.8 553.8 581.4 552.5 582.0 554.3 582.6 554.2 583.2 554.2 583.8 554.3 584.4 554.6 585.0 553.8 585.6 554.2 586.2 553.5 586.8 553.6 587.4 554.2 588.0 553.9 588.6 553.1 589.2 553.9 589.8 553.6 590.4 553.3 591.0 553.9 591.6 553.5 592.2 553.0 592.8 553.1 593.4 554.4 594.0 552.9 594.6 553.7 595.2 553.9 595.8 553.9 596.4 553.0 597.0 553.4 597.6 553.6 598.2 553.9 598.8 553.2 599.4 553.0 600.0 554.0 600.6 554.0 601.2 553.6 601.8 553.1 602.4 553.5 603.0 553.3 603.6 553.6 604.2 552.6 604.8 553.2 605.4 553.0 606.0 552.5 606.6 553.1 607.2 553.0 607.8 552.7 608.4 553.0 609.0 552.2 609.6 552.7 610.2 552.9 610.8 552.8 611.4 553.1 612.0 552.0 612.6 551.9 613.1 552.6 613.7 552.6 614.3 553.4 614.9 552.6 615.5 551.9 616.1 552.6 616.7 551.8 617.3 551.5 617.9 553.3 618.5 552.2 619.1 552.4 619.7 552.2 620.3 552.8 620.9 552.0 621.5 552.4 622.1 551.3 622.7 551.1 623.3 552.3 623.9 552.3 624.5 551.8 625.1 551.7 625.7 551.6 626.3 551.2 626.9 552.1 627.5 551.7 628.1 551.6 628.7 551.5 629.3 551.7 629.9 551.4 630.5 551.5 631.1 550.6 631.7 551.3 632.3 552.0 632.9 550.7 633.5 550.9 634.1 551.3 634.7 551.3 635.3 551.1 635.9 550.0 636.5 550.9 637.1 550.1 637.7 550.2 638.3 550.8 638.9 550.4 639.4 550.8 640.0 551.8 640.6 550.7 641.2 550.7 641.8 549.9 642.4 549.9 643.0 549.7 643.6 549.9 644.2 549.6 644.8 549.8 645.4 549.9 646.0 549.5 646.6 549.3 647.2 549.3 647.8 550.0 648.4 549.8 649.0 550.2 649.6 550.2 650.2 549.5 650.8 549.9 651.4 548.9 652.0 550.5 652.6 550.1 653.2 549.6 653.8 549.2 654.4 550.0 655.0 549.1 655.6 549.6 656.2 550.4 656.8 550.2 657.4 550.0 657.9 550.7 658.5 549.9 659.1 550.6 659.7 550.3 660.3 550.3 660.9 550.9 661.5 550.4 662.1 551.7 662.7 550.7 663.3 551.9 663.9 550.6 664.5 551.5 665.1 550.7 665.7 550.8 666.3 551.5 666.9 551.8 667.5 551.0 668.1 552.2 668.6 551.4 669.2 551.9 669.8 552.1 670.4 552.3 671.0 551.3 671.6 552.9 672.2 552.5 672.8 552.1 673.4 552.0 674.0 551.7 674.6 551.8 675.2 552.7 675.8 552.2 676.4 551.8 677.0 552.1 677.6 553.0 678.2 552.1 678.8 551.9 679.4 552.7 680.0 552.3 680.6 552.1 681.2 551.7 681.8 551.3 682.4 551.4 683.0 551.7 683.6 551.8 684.2 552.0 684.8 552.0 685.4 551.8 686.0 551.8 686.6 551.2 687.2 550.7 687.8 551.3 688.4 551.1 689.0 551.2 689.6 551.3 690.2 550.9 690.8 550.9 691.4 551.3 692.0 551.4 692.6 551.0 693.2 551.4 693.8 551.1 694.4 550.7 695.0 551.1 695.6 551.9 696.2 550.7 696.8 551.5 697.4 551.6 698.0 551.6 698.6 550.5 699.2 551.7 699.8 550.8 700.4 550.6 701.0 550.6 701.6 550.9 702.2 550.6 702.8 550.5 703.4 551.1 704.0 550.2 704.6 550.0 705.2 550.7 705.8 550.6 706.4 550.8 707.0 549.7 707.6 550.7 708.1 550.3 708.7 550.8 709.3 549.4 709.9 550.0 710.5 549.8 711.1 549.1 711.7 549.5 712.3 550.2 712.9 549.5 713.5 549.3 714.1 549.9 714.7 549.9 715.3 549.9 715.9 549.0 716.4 549.3 717.0 549.7 717.6 548.9 718.2 548.8 718.8 549.5 719.4 549.8 720.0 548.5 720.6 547.8 721.2 548.2 721.8 548.4 722.4 548.7 723.0 549.0 723.6 548.6 724.1 548.3 724.7 548.6 725.3 548.1 725.9 548.4 726.5 548.1 727.1 549.5 727.7 548.6 728.3 547.8 728.9 547.7 729.5 547.9 730.1 547.3 730.7 547.7 731.3 547.6 731.9 548.3 732.4 547.6 733.0 547.4 733.6 547.1 734.2 547.1 734.8 547.6 735.4 547.5 736.0 548.0 736.6 547.3 737.2 548.1 737.8 547.8 738.4 547.8 739.0 547.0 739.6 547.4 740.2 548.4 740.8 548.8 741.4 548.3 742.0 548.6 742.6 548.2 743.2 548.3 743.8 548.2 744.4 549.0 745.0 548.8 745.6 548.6 746.2 548.7 746.8 549.2 747.4 549.1 748.0 548.7 748.6 549.9 749.2 549.3 749.8 549.3 750.4 550.0 751.0 549.9 751.6 549.5 752.2 549.8 752.8 549.2 753.4 549.5 754.0 548.8 754.6 550.5 755.2 549.1 755.8 550.4 756.4 549.8 757.0 549.8 757.6 550.2 758.2 550.5 758.8 550.7 759.4 551.3 760.0 550.8 760.6 551.1 761.2 550.5 761.8 551.2 762.4 551.0 763.0 550.8 763.6 550.9 764.2 550.8 764.8 550.8 765.4 550.8 766.0 550.3 766.6 550.1 767.2 550.7 767.8 549.5 768.4 549.9 769.0 550.8 769.6 548.8 770.2 549.6 770.8 550.2 771.4 549.0 771.9 550.9 772.5 548.4 773.1 550.2 773.7 550.1 774.3 549.7 774.9 549.1 775.5 549.3 776.1 548.7 776.7 549.3 777.3 548.4 777.9 548.7 778.5 549.2 779.1 548.1 779.7 548.4 780.3 548.5 780.9 547.8 781.5 548.8 782.1 548.3 782.7 547.4 783.3 548.0 783.9 547.6 784.5 547.5 785.1 547.8 785.7 547.3 786.3 548.0 786.9 547.2 787.5 547.8 788.1 547.3 788.6 547.6 789.2 546.9 789.8 546.8 790.4 546.4 791.0 547.1 791.6 547.2 792.2 547.7 792.8 547.2 793.4 546.6 794.0 546.3 794.6 546.5 795.2 546.3 795.8 546.8 796.4 546.5 797.0 545.6 797.4 546.3 797.8 547.8 798.2 547.9 798.6 548.3 799.0 549.5 799.4 549.4 799.8 550.1 800.2 550.6 800.6 550.5 801.0 552.4 801.6 551.3 802.2 551.5 802.8 551.2 803.4 551.8 803.9 551.3 804.5 551.2 805.1 550.3 805.7 550.8 806.3 550.1 806.9 550.7 807.5 550.6 808.1 550.3 808.7 551.1 809.3 550.3 809.8 550.2 810.4 549.8 811.0 549.5 811.6 549.9 812.2 549.8 812.8 548.6 813.4 549.5 814.0 549.1 814.6 549.2 815.2 548.8 815.7 547.9 816.3 547.8 816.9 549.0 817.5 548.2 818.1 547.3 818.7 547.9 819.3 547.5 819.9 546.7 820.5 546.3 821.1 546.5 821.6 547.2 822.2 546.9 822.8 546.7 823.4 546.8 824.0 546.8 824.6 545.5 825.2 546.3 825.8 546.0 826.4 545.8 827.0 546.0 827.5 546.2 828.1 546.1 828.7 545.5 829.3 545.9 829.9 547.0 830.5 545.5 831.1 545.2 831.7 546.0 832.3 546.1 832.9 546.0 833.5 545.3 834.0 546.2 834.6 545.3 835.2 545.1 835.8 545.3 836.4 545.5 837.0 545.8 837.6 545.7 838.2 545.4 838.8 545.8 839.4 545.4 840.0 545.7 840.5 544.6 841.1 544.5 841.7 545.5 842.3 544.5 842.9 544.9 843.5 545.0 844.1 544.7 844.7 544.7 845.3 545.5 845.9 543.7 846.5 545.2 847.0 545.8 847.6 544.7 848.2 544.6 848.8 544.9 849.4 545.4 850.0 544.0 850.6 544.6 851.2 544.6 851.8 545.0 852.4 544.9 852.9 545.2 853.5 544.8 854.1 545.1 854.7 544.8 855.3 544.9 855.9 545.2 856.5 545.3 857.1 544.9 857.6 546.2 858.2 545.5 858.8 545.0 859.4 546.2 860.0 545.5 860.6 546.1 861.2 545.9 861.8 546.0 862.3 546.0 862.9 545.7 863.5 546.1 864.1 547.0 864.7 545.1 865.3 546.2 865.8 546.4 866.4 545.8 867.0 545.7 867.6 547.3 868.2 546.2 868.8 547.3 869.4 546.7 869.9 546.5 870.5 546.7 871.1 546.9 871.7 547.1 872.3 546.8 872.9 546.8 873.4 546.8 874.0 547.4 874.6 547.2 875.2 546.4 875.8 546.6 876.4 547.1 876.9 546.7 877.5 546.8 878.1 546.6 878.7 547.0 879.3 547.2 879.9 547.4 880.5 546.9 881.1 547.8 881.7 546.8 882.3 548.2 882.8 547.2 883.4 546.9 884.0 546.4 884.6 545.3 885.2 546.4 885.8 546.5 886.4 547.3 887.0 545.7 887.6 547.1 888.2 546.1 888.8 546.5 889.4 545.0 889.9 546.1 890.5 545.8 891.1 546.3 891.7 545.9 892.3 545.3 892.9 546.2 893.5 546.0 894.1 545.9 894.7 546.1 895.3 546.1 895.9 545.5 896.5 544.8 897.0 544.8 897.6 546.0 898.2 545.6 898.8 545.3 899.4 545.0 900.0 545.1 900.6 545.1 901.2 544.9 901.8 544.6 902.4 545.9 903.0 545.0 903.6 544.5 904.2 544.2 904.7 544.4 905.3 545.0 905.9 544.9 906.5 544.4 907.1 544.5 907.7 544.3 908.3 543.9 908.9 544.9 909.5 544.4 910.1 545.3 910.7 543.8 911.3 544.0 911.8 544.4 912.4 543.9 913.0 543.3 913.6 543.4 914.2 543.9 914.8 543.9 915.4 543.7 916.0 544.1 916.6 544.0 917.2 543.7 917.8 543.5 918.3 543.3 918.9 543.6 919.5 543.8 920.1 543.3 920.7 543.4 921.3 543.0 921.9 542.5 922.5 542.6 923.1 543.4 923.6 543.2 924.2 543.6 924.8 542.9 925.4 543.2 926.0 543.4 926.6 543.2 927.2 542.4 927.8 542.5 928.4 542.6 928.9 542.1 929.5 542.7 930.1 542.9 930.7 542.1 931.3 543.2 931.9 542.1 932.5 542.1 933.1 542.0 933.7 541.8 934.2 542.2 934.8 542.0 935.4 542.7 936.0 542.2 936.6 542.1 937.2 541.7 937.8 541.1 938.4 541.6 939.0 541.2 939.5 542.0 940.1 541.5 940.7 542.2 941.3 541.7 941.9 541.7 942.5 541.4 943.1 541.4 943.7 541.5 944.3 541.6 944.8 540.8 945.4 541.3 946.0 542.2 946.6 540.9 947.2 540.8 947.8 540.6 948.4 540.3 949.0 541.6 949.6 541.1 950.2 541.3 950.8 542.0 951.4 542.4 951.9 540.9 952.5 541.8 953.1 541.7 953.7 541.6 954.3 541.7 954.9 541.5 955.5 542.3 956.1 541.7 956.7 541.4 957.3 541.6 957.9 541.2 958.5 540.8 959.1 540.5 959.6 541.0 960.2 540.2 960.8 539.8 961.4 539.2 962.0 539.2 962.6 538.7 963.2 539.0 963.8 538.9 964.4 537.8 965.0 538.6 965.6 538.9 966.2 538.6 966.8 538.0 967.4 538.9 968.0 537.9 968.6 537.6 969.2 537.6 969.8 538.0 970.4 538.4 971.0 538.4 971.6 537.9 972.2 537.1 972.8 537.3 973.4 537.1 974.0 537.4 974.6 536.6 975.2 537.3 975.8 537.5 976.4 537.1 977.0 537.2 977.6 536.5 978.2 536.2 978.8 536.8" stroke="#12b418" stroke-width="3.2" fill="none" stroke-linejoin="round"/>
<path d="M29.0 562.0 29.6 561.7 30.2 562.5 30.8 562.4 31.4 561.8 32.0 562.5 32.6 561.8 33.2 562.6 33.8 562.1 34.4 561.7 35.0 562.3 35.6 561.5 36.2 561.5 36.8 561.2 37.3 562.0 37.9 561.8 38.5 561.8 39.1 561.7 39.7 562.5 40.3 561.6 40.9 561.5 41.5 562.4 42.1 562.4 42.7 561.9 43.3 561.0 43.9 561.5 44.5 562.0 45.1 561.7 45.7 562.4 46.3 561.1 46.9 562.0 47.5 561.4 48.1 562.3 48.7 561.6 49.3 562.1 49.9 561.4 50.5 561.0 51.1 561.1 51.7 561.4 52.2 561.2 52.8 562.2 53.4 562.2 54.0 561.7 54.6 561.1 55.2 561.5 55.8 561.3 56.4 562.2 57.0 561.7 57.6 561.8 58.2 561.3 58.8 560.6 59.4 561.2 60.0 561.0 60.6 561.6 61.2 561.5 61.8 561.1 62.4 561.2 63.0 562.1 63.6 560.9 64.2 560.9 64.8 561.2 65.4 561.0 66.0 561.1 66.6 561.5 67.2 562.0 67.8 560.4 68.4 561.2 69.0 561.2 69.6 561.1 70.1 561.0 70.7 560.9 71.3 561.5 71.9 560.8 72.5 561.0 73.1 561.0 73.7 561.0 74.3 560.9 74.9 561.4 75.5 560.9 76.1 561.0 76.7 560.8 77.3 560.4 77.9 560.5 78.5 560.3 79.1 560.9 79.7 560.4 80.3 560.3 80.9 560.8 81.5 560.9 82.1 559.9 82.7 561.4 83.3 560.6 83.9 560.6 84.5 561.1 85.1 560.6 85.7 560.3 86.3 561.5 86.9 560.0 87.5 560.4 88.1 560.8 88.7 559.9 89.3 560.4 89.9 560.6 90.4 561.4 91.0 559.9 91.6 560.3 92.2 560.6 92.8 560.3 93.4 559.7 94.0 560.4 94.6 560.2 95.2 560.4 95.8 560.7 96.4 560.6 97.0 560.3 97.6 560.2 98.2 559.6 98.8 560.0 99.4 560.1 100.0 559.8 100.6 560.0 101.2 559.6 101.8 560.6 102.4 560.9 103.0 559.7 103.6 560.1 104.2 559.8 104.8 560.4 105.4 560.0 106.0 559.8 106.5 559.7 107.1 559.8 107.7 559.3 108.3 560.0 108.9 559.4 109.5 559.9 110.1 559.7 110.7 560.1 111.3 559.6 111.9 560.1 112.5 559.2 113.1 559.8 113.7 559.4 114.3 559.6 114.9 559.5 115.5 559.9 116.1 558.5 116.7 559.6 117.3 558.7 117.9 559.9 118.5 558.5 119.0 558.9 119.6 558.6 120.2 560.0 120.8 558.7 121.4 559.3 122.0 559.0 122.6 558.4 123.2 559.1 123.8 559.5 124.4 559.1 125.0 559.6 125.6 559.0 126.2 559.1 126.8 558.9 127.4 559.2 128.0 559.9 128.6 559.2 129.2 559.1 129.8 558.7 130.4 558.6 131.0 559.6 131.5 558.4 132.1 558.5 132.7 558.8 133.3 558.7 133.9 559.7 134.5 557.8 135.1 559.0 135.7 559.1 136.3 558.3 136.9 558.5 137.5 558.9 138.1 559.4 138.7 558.3 139.3 558.0 139.9 559.1 140.5 559.3 141.1 558.5 141.7 557.6 142.3 559.2 142.9 558.5 143.5 559.0 144.0 558.5 144.6 558.3 145.2 558.3 145.8 559.1 146.4 559.1 147.0 557.4 147.6 558.0 148.2 559.2 148.8 558.2 149.4 557.7 150.0 558.3 150.6 558.2 151.2 558.3 151.8 558.1 152.4 558.2 153.0 558.1 153.6 558.4 154.2 557.9 154.8 558.2 155.4 558.2 156.0 558.9 156.6 558.4 157.2 558.2 157.8 558.5 158.4 558.5 159.0 558.8 159.6 558.5 160.2 559.1 160.8 558.9 161.4 558.2 162.0 558.1 162.6 558.7 163.2 558.5 163.8 558.2 164.4 557.6 165.0 557.4 165.6 558.4 166.2 558.6 166.8 558.6 167.4 557.7 168.0 558.7 168.6 558.0 169.2 558.4 169.8 558.4 170.4 557.9 171.0 558.0 171.6 557.3 172.2 557.8 172.8 557.4 173.4 558.4 174.0 558.3 174.6 558.6 175.2 558.4 175.8 557.9 176.4 558.4 177.0 558.0 177.6 558.5 178.2 558.4 178.8 557.8 179.4 558.2 180.0 558.2 180.6 558.1 181.2 558.6 181.8 559.0 182.4 558.0 183.0 558.0 183.6 557.3 184.2 558.3 184.8 558.2 185.3 557.5 185.9 558.7 186.5 558.9 187.1 558.3 187.7 558.6 188.2 558.4 188.8 559.2 189.4 558.3 190.0 558.9 190.6 559.9 191.2 559.2 191.8 559.4 192.3 559.2 192.9 558.8 193.5 559.4 194.1 559.6 194.7 559.1 195.2 559.8 195.8 560.2 196.4 560.2 197.0 559.1 197.6 559.4 198.2 559.1 198.8 560.3 199.4 560.1 200.0 560.2 200.6 559.5 201.2 559.4 201.8 559.9 202.4 560.0 203.0 559.5 203.6 560.0 204.2 560.3 204.8 560.1 205.4 559.5 206.0 559.0 206.6 559.9 207.2 560.1 207.8 559.9 208.4 559.9 209.0 559.8 209.6 560.4 210.2 560.1 210.8 560.2 211.4 559.7 212.0 559.9 212.6 560.2 213.2 559.7 213.8 559.6 214.4 560.0 215.0 560.7 215.6 560.3 216.2 560.9 216.8 560.1 217.4 560.1 218.0 559.6 218.6 559.9 219.1 560.8 219.7 560.3 220.3 560.5 220.9 560.5 221.5 560.2 222.1 560.1 222.7 560.3 223.3 560.5 223.9 560.4 224.5 560.4 225.1 560.3 225.7 559.9 226.3 560.1 226.9 559.8 227.4 560.7 228.0 559.3 228.6 560.1 229.2 561.3 229.8 560.0 230.4 559.7 231.0 560.2 231.6 560.8 232.2 560.1 232.8 560.4 233.3 560.1 233.9 559.9 234.5 561.4 235.1 560.0 235.7 559.7 236.2 559.7 236.8 560.1 237.4 560.1 238.0 560.2 238.6 559.9 239.2 559.1 239.8 560.0 240.3 559.6 240.9 559.6 241.5 559.0 242.1 559.4 242.7 559.3 243.2 559.6 243.8 558.9 244.4 559.6 245.0 559.6 245.6 559.0 246.2 559.2 246.8 559.1 247.4 559.9 248.0 558.3 248.6 559.3 249.2 558.7 249.8 559.2 250.4 559.8 251.0 559.1 251.6 559.4 252.2 559.0 252.8 560.2 253.4 559.7 254.0 559.8 254.6 558.7 255.2 558.8 255.8 559.8 256.4 559.2 257.0 559.1 257.6 559.4 258.2 558.7 258.8 559.6 259.4 559.2 260.0 559.4 260.6 558.9 261.2 559.4 261.8 558.8 262.4 559.6 262.9 559.6 263.5 559.5 264.1 559.4 264.7 559.4 265.3 557.9 265.9 559.5 266.5 558.9 267.1 559.1 267.6 558.9 268.2 558.4 268.8 558.8 269.4 559.3 270.0 559.6 270.6 558.7 271.2 558.6 271.8 559.6 272.4 558.6 272.9 559.9 273.5 559.0 274.1 558.5 274.7 559.3 275.3 559.7 275.9 558.2 276.5 559.6 277.1 558.7 277.6 559.5 278.2 558.7 278.8 558.1 279.4 559.0 280.0 559.2 280.6 559.7 281.2 559.4 281.8 558.9 282.4 558.4 282.9 558.2 283.5 558.2 284.1 557.9 284.7 558.1 285.3 557.0 285.9 558.1 286.5 557.9 287.1 559.0 287.6 558.1 288.2 557.5 288.8 557.9 289.4 557.0 290.0 557.2 290.6 556.5 291.1 557.8 291.7 557.3 292.3 556.3 292.9 556.7 293.4 556.9 294.0 556.6 294.6 556.4 295.1 555.6 295.7 555.6 296.3 555.7 296.9 555.9 297.4 555.0 298.0 554.7 298.6 555.6 299.2 554.5 299.8 555.3 300.4 554.8 301.0 554.9 301.6 555.2 302.2 554.6 302.8 554.5 303.4 553.6 304.0 553.5 304.6 554.0 305.2 554.3 305.8 554.1 306.4 554.3 307.0 553.4 307.5 553.4 308.1 553.7 308.7 553.3 309.3 553.2 309.8 552.7 310.4 553.6 311.0 552.7 311.5 553.4 312.1 552.5 312.7 553.6 313.3 552.7 313.8 553.5 314.4 552.4 315.0 553.1 315.5 554.0 316.1 553.2 316.7 553.8 317.3 553.7 317.9 553.0 318.4 554.4 319.0 554.6 319.6 553.8 320.1 554.5 320.7 553.9 321.3 553.7 321.9 554.1 322.4 553.8 323.0 555.0 323.6 553.2 324.1 554.2 324.7 554.3 325.3 552.9 325.9 552.9 326.4 553.9 327.0 553.4 327.6 553.6 328.1 553.8 328.7 552.9 329.3 552.4 329.9 551.5 330.4 552.6 331.0 551.9 331.6 552.3 332.1 552.1 332.7 551.2 333.3 552.5 333.8 552.1 334.4 551.9 335.0 550.9 335.6 551.1 336.1 551.0 336.7 550.9 337.3 550.5 337.8 551.1 338.4 550.9 339.0 550.9 339.6 550.4 340.1 551.1 340.7 550.5 341.3 549.3 341.8 550.4 342.4 550.8 343.0 551.4 343.5 551.0 344.1 551.1 344.7 551.1 345.3 551.8 345.8 551.5 346.4 551.5 347.0 551.3 347.5 551.8 348.1 551.2 348.7 550.5 349.3 551.4 349.8 550.7 350.4 551.0 351.0 550.9 351.5 551.1 352.1 550.9 352.7 550.0 353.3 550.1 353.8 549.5 354.4 550.7 355.0 550.0 355.5 550.3 356.1 549.4 356.7 548.5 357.3 550.0 357.9 549.3 358.4 549.2 359.0 549.0 359.6 549.2 360.1 549.0 360.7 547.9 361.3 549.0 361.9 548.2 362.5 548.1 363.0 549.0 363.6 548.5 364.2 547.8 364.7 547.0 365.3 547.8 365.9 547.8 366.4 547.4 367.0 546.7 367.6 546.8 368.1 546.4 368.7 547.0 369.3 547.1 369.9 547.0 370.4 546.1 371.0 546.4 371.6 546.4 372.1 545.8 372.7 545.8 373.3 546.7 373.9 545.7 374.4 545.8 375.0 545.1 375.6 545.2 376.1 544.2 376.7 544.8 377.3 545.2 377.9 546.1 378.4 546.2 379.0 546.5 379.6 546.7 380.1 546.8 380.7 547.5 381.3 547.6 381.8 546.7 382.4 547.2 383.0 546.1 383.5 545.5 384.1 545.6 384.7 545.0 385.3 544.9 385.8 545.8 386.4 544.9 387.0 545.0 387.5 545.3 388.1 545.3 388.7 544.4 389.2 545.1 389.8 544.6 390.4 544.4 391.0 544.5 391.5 543.5 392.1 543.7 392.7 543.7 393.3 543.7 393.8 542.9 394.4 542.7 395.0 542.8 395.6 542.7 396.2 542.1 396.7 542.0 397.3 540.9 397.9 540.6 398.5 540.6 399.0 540.1 399.6 539.8 400.1 540.6 400.7 539.5 401.3 539.0 401.8 539.4 402.4 539.8 403.0 539.5 403.5 540.4 404.1 540.1 404.7 540.5 405.3 539.8 405.8 539.5 406.4 539.8 407.0 537.9 407.5 538.6 408.1 536.8 408.7 537.0 409.3 537.3 409.9 537.0 410.5 536.6 411.1 535.5 411.6 536.2 412.2 535.4 412.8 536.8 413.4 535.3 414.0 535.3 414.4 535.3 414.8 536.2 415.2 536.4 415.7 538.0 416.1 538.0 416.5 539.0 416.9 539.0 417.5 538.6 418.1 539.0 418.6 537.5 419.2 536.7 419.8 537.2 420.4 536.1 420.9 535.9 421.5 536.1 422.1 534.8 422.7 535.8 423.2 535.4 423.8 536.6 424.3 536.8 424.9 536.2 425.4 536.6 426.0 536.5 426.5 537.4 427.1 538.3 427.6 537.6 428.2 539.1 428.7 538.5 429.3 539.2 429.8 539.2 430.3 540.6 430.9 539.4 431.4 539.2 432.0 538.5 432.5 539.0 433.1 537.3 433.6 537.9 434.2 538.7 434.8 537.4 435.4 537.4 436.0 537.5 436.6 536.7 437.2 536.9 437.8 537.2 438.4 536.7 439.0 536.6 439.6 536.1 440.2 536.2 440.7 536.5 441.3 537.6 441.8 537.7 442.3 537.6 442.9 537.1 443.4 538.9 443.9 539.3 444.5 539.0 445.0 538.9 445.5 539.7 446.1 541.0 446.6 540.4 447.1 541.1 447.7 541.7 448.2 542.6 448.7 542.4 449.3 542.7 449.8 542.9 450.1 544.4 450.4 544.7 450.7 544.8 451.0 544.8 451.4 545.6 451.7 546.8 452.0 546.8 452.3 548.1 452.6 548.5 452.9 549.0 453.1 549.7 453.4 550.2 453.7 550.1 454.0 550.9 454.2 552.6 454.5 551.6 455.0 551.6 455.6 552.0 456.1 551.2 456.7 550.6 457.2 550.1 457.8 550.7 458.3 550.7 458.8 550.9 459.4 550.4 459.9 550.9 460.5 550.0 461.0 550.6 461.6 550.3 462.1 550.8 462.6 551.5 463.1 552.1 463.5 551.7 464.0 553.2 464.5 551.8 465.0 551.0 465.5 550.8 465.9 549.6 466.4 549.7 466.9 549.2 467.4 548.4 467.9 548.1 468.4 547.2 469.0 546.8 469.5 545.6 470.1 545.7 470.6 544.7 471.2 544.4 471.7 544.0 472.3 544.0 472.9 543.0 473.5 543.0 474.0 543.4 474.6 543.7 475.2 543.5 475.8 543.6 476.4 543.7 476.9 543.0 477.5 542.4 478.0 541.7 478.5 541.4 479.1 541.3 479.6 541.3 480.1 540.9 480.7 540.5 481.2 540.1 481.7 540.3 482.3 540.0 482.8 539.9 483.3 539.7 483.9 539.2 484.4 538.8 484.9 539.3 485.5 539.1 486.0 538.7 486.6 538.5 487.2 539.6 487.8 538.1 488.4 538.3 488.9 538.4 489.5 537.6 490.1 538.1 490.7 538.7 491.3 538.2 491.8 538.0 492.4 537.9 492.9 537.6 493.5 537.8 494.0 537.2 494.6 537.0 495.2 537.1 495.7 537.4 496.3 537.0 496.8 537.1 497.4 535.8 498.0 537.5 498.5 538.3 499.1 538.1 499.7 537.7 500.2 537.7 500.8 538.5 501.4 538.2 501.9 539.2 502.5 539.0 503.1 539.5 503.6 539.6 504.2 538.0 504.8 538.9 505.3 538.3 505.9 537.9 506.5 538.2 507.0 538.2 507.6 538.7 508.2 537.4 508.7 538.5 509.3 538.8 509.9 537.8 510.4 537.4 511.0 536.8 511.5 535.9 512.1 536.3 512.6 535.8 513.2 535.6 513.7 536.0 514.3 534.8 514.9 534.4 515.4 534.6 516.0 533.0 516.6 532.8 517.1 532.8 517.7 532.4 518.3 532.7 518.8 531.9 519.4 532.5 520.0 532.1 520.5 531.5 521.1 530.6 521.7 531.1 522.2 531.2 522.8 530.4 523.4 531.1 523.9 531.3 524.5 531.1 525.1 531.7 525.6 531.6 526.2 530.7 526.8 531.3 527.3 531.0 527.9 531.8 528.5 531.3 529.0 532.2 529.6 532.1 530.2 532.5 530.7 532.2 531.3 531.7 531.9 533.3 532.4 532.6 533.0 533.4 533.5 533.0 534.0 533.2 534.6 533.7 535.1 533.1 535.6 533.6 536.2 532.4 536.7 533.5 537.2 533.0 537.4 533.6 537.7 534.2 537.9 534.9 538.2 536.1 538.4 535.1 538.7 536.5 538.9 536.7 539.4 537.6 540.0 537.0 540.5 537.5 541.0 537.3 541.5 537.9 542.0 538.1 542.6 537.6 543.1 537.9 543.7 537.0 544.2 537.5 544.8 537.4 545.4 536.5 545.9 537.0 546.5 535.3 547.1 535.2 547.6 535.2 548.2 535.4 548.8 535.5 549.3 535.2 549.9 535.0 550.5 535.2 551.0 534.5 551.6 533.9 552.2 533.8 552.7 535.3 553.3 533.1 553.9 534.0 554.4 534.7 555.0 534.1 555.6 533.4 556.1 533.7 556.7 534.0 557.3 534.5 557.9 534.0 558.5 535.1 559.1 535.3 559.7 536.0 560.2 536.6 560.8 536.2 561.4 536.1 562.0 537.3 562.6 538.3 563.2 537.7 563.8 537.3 564.4 538.2 565.0 536.5 565.5 537.3 566.1 536.5 566.7 536.6 567.3 536.5 567.9 537.0 568.5 535.8 569.1 535.8 569.6 535.2 570.2 536.0 570.8 535.4 571.3 535.7 571.9 534.9 572.5 535.0 573.0 535.5 573.6 534.8 574.2 535.1 574.7 534.9 575.3 534.3 575.9 534.0 576.4 535.4 577.0 535.2 577.6 535.8 578.1 534.7 578.7 535.1 579.3 534.3 579.8 534.3 580.4 534.6 580.9 533.8 581.5 533.0 582.0 532.5 582.6 532.3 583.1 531.2 583.7 531.0 584.3 531.0 584.8 530.0 585.4 530.9 586.0 531.8 586.5 531.1 587.1 531.3 587.7 531.2 588.2 531.4 588.8 532.2 589.4 531.7 589.9 531.4 590.5 530.6 591.1 532.1 591.6 531.8 592.2 532.3 592.8 533.8 593.3 534.2 593.9 533.3 594.5 534.9 595.0 535.1 595.6 534.9 596.1 535.3 596.7 533.9 597.2 533.7 597.8 533.3 598.4 533.0 598.9 533.6 599.5 532.2 600.0 532.0 600.5 531.6 601.1 531.7 601.6 531.0 602.1 531.1 602.6 530.0 603.2 529.3 603.7 529.2 604.2 529.2 604.8 528.5 605.4 528.9 605.9 529.3 606.5 528.0 607.0 528.1 607.6 528.5 608.1 527.3 608.7 527.0 609.2 526.7 609.8 527.4 610.4 527.5 611.0 527.2 611.6 527.3 612.2 527.9 612.8 527.8 613.4 526.8 613.9 527.4 614.5 527.5 615.1 527.8 615.7 527.4 616.3 527.2 616.9 527.4 617.5 526.8 618.1 527.2 618.7 526.5 619.3 526.5 619.9 525.5 620.5 525.3 621.0 524.6 621.6 524.2 622.2 524.6 622.8 523.6 623.4 523.6 624.0 522.5 624.6 522.7 625.1 521.5 625.7 521.7 626.2 521.3 626.8 521.4 627.4 520.8 627.9 520.3 628.5 520.4 629.0 519.7 629.6 519.5 630.1 519.1 630.5 518.1 631.0 517.4 631.5 517.1 631.9 516.2 632.4 516.0 632.8 515.8 633.3 515.1 633.8 514.9 634.4 514.9 634.9 515.8 635.4 516.2 635.9 517.1 636.5 516.8 637.0 517.3 637.3 518.3 637.7 518.3 638.0 519.1 638.3 520.5 638.6 521.0 639.0 521.2 639.3 521.6 639.6 521.7 639.9 522.9 640.3 523.3 640.6 524.0 641.2 523.3 641.7 523.1 642.3 522.7 642.8 522.5 643.4 522.7 644.0 521.8 644.5 520.5 645.1 520.5 645.6 519.8 646.2 519.8 646.8 520.0 647.4 519.5 648.0 518.7 648.6 518.6 649.2 517.7 649.7 517.0 650.3 516.6 650.9 516.4 651.5 517.1 652.1 515.4 652.7 516.1 653.3 516.4 653.9 516.0 654.4 516.3 655.0 516.3 655.6 516.8 656.2 517.4 656.8 517.4 657.4 518.1 657.9 518.4 658.5 518.3 659.1 518.5 659.5 518.9 659.9 519.7 660.3 519.6 660.7 520.8 661.2 521.3 661.6 521.4 662.0 523.3 662.4 522.5 662.8 523.1 663.4 523.2 663.9 521.8 664.5 521.9 665.0 521.1 665.6 520.9 666.2 520.9 666.7 520.7 667.3 520.6 667.8 520.1 668.4 519.8 668.9 519.8 669.4 519.6 669.9 520.5 670.5 520.1 671.0 520.3 671.5 521.5 672.0 521.4 672.2 521.7 672.5 522.6 672.7 523.2 673.0 522.8 673.2 523.9 673.4 524.0 673.7 525.2 673.9 525.4 674.2 525.7 674.6 524.7 674.9 523.6 675.2 523.3 675.6 522.2 675.9 522.2 676.3 521.8 676.6 521.1 676.9 519.6 677.3 519.7 677.6 519.5 678.1 519.0 678.7 519.1 679.2 517.6 679.8 518.0 680.4 517.1 680.9 517.1 681.5 516.9 682.0 516.6 682.6 515.7 683.1 515.7 683.7 514.6 684.2 514.0 684.8 514.4 685.3 513.7 685.9 512.5 686.5 512.4 687.0 512.4 687.6 512.6 688.1 511.9 688.7 511.3 689.3 510.0 689.8 510.5 690.4 510.5 690.9 510.3 691.5 510.1 692.1 509.6 692.6 510.3 693.2 509.9 693.8 509.0 694.3 508.4 694.9 509.5 695.4 508.1 696.0 508.7 696.6 509.1 697.1 507.8 697.7 508.5 698.2 508.2 698.8 508.7 699.4 508.6 699.9 509.4 700.5 508.8 701.0 508.6 701.6 509.2 702.2 508.1 702.7 507.7 703.3 508.4 703.8 506.6 704.4 506.4 705.0 506.2 705.5 505.3 706.1 504.4 706.6 505.4 707.2 504.1 707.8 504.0 708.3 503.9 708.9 503.4 709.4 503.1 710.0 503.5 710.6 504.3 711.1 503.3 711.7 503.1 712.3 501.9 712.8 502.3 713.4 501.6 713.9 502.2 714.5 501.6 715.1 501.5 715.6 501.3 716.2 500.9 716.8 500.3 717.3 501.1 717.9 500.0 718.5 500.0 719.1 500.2 719.6 499.8 720.2 500.1 720.8 500.3 721.3 499.8 721.9 499.6 722.4 498.9 722.9 498.8 723.4 497.0 723.9 497.4 724.4 496.3 725.0 495.6 725.5 495.6 726.0 494.9 726.5 494.7 727.0 494.4 727.5 492.3 728.1 493.2 728.6 494.0 729.2 493.4 729.8 493.6 730.4 492.9 731.0 492.1 731.5 492.1 732.1 492.8 732.4 492.3 732.6 491.0 732.9 490.6 733.2 490.2 733.4 488.7 733.7 488.8 734.0 489.1 734.2 488.7 734.5 487.1 734.7 487.4 735.0 485.7 735.3 485.0 735.5 483.8 735.8 484.6 736.4 484.3 736.9 485.9 737.5 485.3 738.1 485.6 738.7 485.0 739.2 486.9 739.8 486.4 740.4 486.8 740.9 486.1 741.5 487.7 742.0 487.9 742.6 487.4 743.1 487.9 743.7 488.2 744.2 488.6 744.8 488.4 745.4 489.4 745.9 488.7 746.4 488.9 747.0 489.3 747.5 488.7 748.0 489.8 748.6 491.0 749.1 491.0 749.7 490.9 750.2 491.7 750.7 490.1 751.3 490.3 751.8 490.1 752.3 489.6 752.9 488.3 753.4 488.5 753.9 488.4 754.4 486.7 755.0 486.7 755.5 485.1 756.1 485.4 756.7 487.0 757.2 487.3 757.8 487.8 758.4 488.0 759.0 488.6 759.5 489.6 760.1 490.5 760.7 490.1 761.1 490.0 761.6 491.9 762.0 492.1 762.4 492.8 762.9 493.1 763.3 494.6 763.5 493.0 763.6 492.7 763.8 491.0 764.0 491.0 764.2 490.4 764.3 490.1 764.5 489.7 764.7 488.7 764.9 489.2 765.0 487.4 765.2 487.1 765.4 486.8 765.6 485.6 765.7 485.8 765.9 485.3 766.5 484.6 767.1 485.4 767.7 484.4 768.3 484.3 768.8 483.5 769.4 483.0 770.0 483.3 770.6 483.2 771.2 483.0 771.8 483.7 772.4 482.5 772.9 483.3 773.5 483.2 774.1 484.8 774.7 484.1 775.2 484.3 775.8 484.3 776.4 485.4 776.7 484.2 777.0 483.9 777.4 482.3 777.7 483.2 778.0 482.2 778.3 481.7 778.7 481.5 779.0 480.2 779.3 479.7 779.6 479.5 780.0 478.8 780.3 477.9 780.5 478.6 780.6 478.9 780.8 480.0 780.9 480.7 781.1 480.9 781.3 482.3 781.4 481.4 781.6 482.5 781.8 484.0 781.9 483.6 782.1 483.7 782.2 485.6 782.4 485.8 782.6 485.6 782.7 487.1 782.9 486.9 783.1 487.3 783.2 488.4 783.4 488.8 783.6 489.2 783.7 490.1 783.9 490.4 784.0 491.4 784.2 492.0 784.4 491.7 784.7 490.6 784.9 489.7 785.1 489.1 785.4 489.0 785.6 489.3 785.8 488.4 786.1 487.2 786.3 487.3 786.6 485.8 786.8 486.2 787.0 485.0 787.3 485.0 787.5 484.4 787.7 483.4 788.0 483.1 788.2 481.9 788.7 481.8 789.1 481.7 789.6 482.5 790.1 480.3 790.6 479.5 791.0 478.4 791.5 478.7 792.0 476.9 792.5 476.7 792.9 476.6 793.4 475.3 794.0 476.4 794.5 476.0 795.1 475.0 795.6 474.8 796.2 474.3 796.7 474.0 797.3 474.7 797.4 475.4 797.6 475.8 797.7 476.4 797.8 476.6 797.9 477.6 798.1 477.4 798.2 478.6 798.3 479.9 798.5 480.4 798.6 480.2 798.7 480.8 798.9 482.2 799.0 483.0 799.1 482.1 799.2 483.1 799.4 484.0 799.5 485.1 799.6 484.7 799.8 486.0 799.9 486.1 799.9 487.9 800.0 487.7 800.0 488.0 800.0 488.5 800.1 489.7 800.1 490.2 800.2 490.0 800.2 491.2 800.2 491.0 800.3 491.9 800.3 492.3 800.3 492.8 800.4 493.7 800.4 494.2 800.5 495.5 800.5 496.2 800.5 496.3 800.6 496.5 800.6 498.0 800.6 497.3 800.7 497.9 800.7 499.7 800.8 500.3 800.8 501.1 800.8 501.1 800.9 501.2 800.9 502.2 800.9 503.3 801.0 503.3 801.0 503.9 801.1 504.2 801.1 504.9 801.1 506.4 801.2 506.8 801.2 506.7 801.3 506.1 801.4 505.7 801.6 505.7 801.7 504.3 801.8 504.1 801.9 502.7 802.1 502.5 802.2 502.6 802.3 502.3 802.4 500.7 802.5 500.3 802.7 500.4 802.8 499.3 802.9 498.7 803.0 498.6 803.2 497.8 803.3 497.6 803.4 496.9 803.5 495.7 803.7 495.3 803.8 494.7 803.9 493.6 804.0 493.2 804.2 493.5 804.3 491.7 804.5 492.3 804.6 491.4 804.8 490.6 804.9 490.4 805.1 489.7 805.2 489.5 805.3 488.2 805.5 487.7 805.6 487.1 805.8 487.5 805.9 486.5 806.1 485.0 806.2 484.7 806.4 484.0 806.5 483.7 806.6 483.2 806.8 483.6 806.9 481.1 807.1 481.9 807.2 481.0 807.4 479.9 807.5 479.6 807.7 478.8 807.8 478.5 808.2 479.5 808.7 479.0 809.1 480.8 809.5 480.6 810.0 482.0 810.4 482.1 810.8 483.1 811.3 483.4 811.7 484.2 811.9 483.2 812.1 482.2 812.3 482.3 812.4 481.8 812.6 481.8 812.8 479.4 813.0 479.7 813.2 479.7 813.4 478.1 813.6 478.0 813.7 478.5 813.9 477.6 814.1 476.0 814.3 476.5 814.7 477.0 815.2 477.4 815.6 477.8 816.0 478.3 816.5 478.4 816.9 479.1 817.3 480.3 817.8 480.6 818.2 481.9 818.4 480.3 818.6 478.8 818.7 479.1 818.9 478.8 819.1 478.3 819.3 477.5 819.5 476.5 819.7 477.0 819.8 475.4 820.0 475.5 820.2 474.4 820.4 473.4 820.6 474.0 820.7 471.6 820.9 471.8 821.1 471.8 821.3 470.8 821.5 470.7 821.7 469.7 821.8 469.0 822.0 469.6 822.2 467.9 822.8 467.4 823.3 466.4 823.9 466.0 824.4 466.1 825.0 465.5 825.5 464.6 826.1 463.8 826.7 464.3 827.3 463.1 827.9 463.6 828.5 463.6 829.1 463.2 829.7 463.6 830.3 463.1 830.9 462.9 831.5 464.0 832.1 463.4 832.7 463.5 833.3 462.9 833.9 463.2 834.1 462.6 834.3 462.2 834.5 462.1 834.7 460.3 834.9 460.0 835.1 459.2 835.3 457.1 835.5 457.4 835.7 457.5 835.9 457.2 836.1 456.0 836.3 456.2 836.5 455.7 836.7 454.4 836.9 454.6 837.1 454.1 837.3 453.0 837.5 451.7 837.7 452.2 837.9 450.9 838.5 451.1 839.1 451.6 839.6 451.6 840.2 452.6 840.8 452.8 841.4 453.3 841.9 453.3 842.5 453.0 843.1 453.5 843.5 453.4 844.0 452.3 844.4 453.2 844.8 451.2 845.3 450.4 845.7 450.7 846.1 449.9 846.6 449.0 847.0 448.3 847.2 448.0 847.5 447.6 847.7 447.0 848.0 446.0 848.2 445.7 848.5 445.3 848.7 444.7 849.0 442.4 849.2 442.8 849.4 442.3 849.7 442.0 849.9 441.6 850.2 441.3 850.4 440.6 850.7 439.7 850.9 439.2 851.5 440.4 852.0 439.7 852.6 440.5 853.2 441.4 853.8 441.3 854.3 440.6 854.9 442.1 855.5 441.2 856.0 440.7 856.6 440.7 857.1 439.8 857.7 438.9 858.2 438.9 858.8 438.1 859.2 437.4 859.7 436.9 860.1 436.3 860.5 435.5 861.0 434.9 861.4 434.6 861.8 433.6 862.2 432.9 862.7 433.4 863.1 432.2 863.3 432.9 863.6 433.4 863.8 434.1 864.1 434.7 864.3 435.3 864.5 435.5 864.8 436.9 865.0 436.7 865.2 438.1 865.5 437.4 865.7 438.3 866.0 439.9 866.2 439.9 866.4 440.3 866.6 441.3 866.9 441.3 867.1 442.4 867.3 441.9 867.5 443.3 867.7 443.8 868.0 444.9 868.2 445.7 868.4 445.5 868.6 447.2 868.8 446.8 869.0 446.7 869.3 447.1 869.5 449.5 869.7 449.3 869.9 449.7 870.1 450.2 870.4 450.6 870.6 452.3 870.8 452.3 870.9 452.5 871.1 451.0 871.2 449.5 871.3 450.3 871.4 449.1 871.6 448.6 871.7 448.8 871.8 447.4 871.9 447.4 872.1 446.3 872.2 445.4 872.3 445.4 872.5 444.3 872.6 444.5 872.7 443.8 872.8 442.8 873.0 442.4 873.1 441.8 873.2 440.8 873.4 440.8 873.5 439.7 873.6 439.4 873.7 438.1 873.9 438.0 874.0 437.6 874.1 436.4 874.2 436.0 874.4 435.3 874.5 435.3 874.6 434.1 874.8 434.0 874.9 433.9 875.0 432.8 875.1 431.3 875.3 431.5 875.4 431.3 876.0 431.2 876.5 432.5 877.1 432.8 877.7 433.3 878.3 433.6 878.9 434.0 879.4 434.7 880.0 435.4 880.1 435.0 880.2 434.4 880.4 433.5 880.5 433.1 880.6 432.6 880.7 431.1 880.8 430.9 881.0 430.3 881.1 430.0 881.2 429.4 881.3 428.8 881.4 427.9 881.5 428.0 881.7 427.2 881.8 425.8 881.9 425.9 882.0 424.8 882.1 425.5 882.3 423.9 882.4 423.4 882.5 423.0 882.6 422.3 882.7 421.8 882.9 421.9 883.0 420.7 883.1 420.4 883.4 420.0 883.7 418.4 883.9 419.1 884.2 418.1 884.5 417.6 884.8 416.2 885.1 416.4 885.4 415.7 885.6 414.7 885.9 415.4 886.2 414.1 886.3 413.1 886.3 412.7 886.4 412.4 886.5 411.9 886.5 411.1 886.6 410.8 886.7 410.3 886.7 408.5 886.8 408.2 886.9 407.5 886.9 407.3 887.0 407.3 887.1 406.4 887.1 405.0 887.2 404.8 887.3 404.8 887.4 403.5 887.4 403.1 887.5 402.7 887.6 401.1 887.6 401.7 887.7 400.9 887.8 400.4 887.8 399.1 887.9 398.6 888.0 398.1 888.0 397.9 888.1 397.2 888.2 396.7 888.2 396.8 888.3 396.0 888.6 395.7 888.9 396.3 889.2 397.9 889.5 397.6 889.9 398.9 890.2 399.6 890.5 399.2 890.8 399.9 890.9 400.6 891.0 400.8 891.0 401.3 891.1 402.1 891.2 403.2 891.3 403.2 891.4 403.9 891.4 404.3 891.5 404.5 891.6 406.4 891.7 405.2 891.7 406.5 891.8 407.6 891.9 407.3 892.0 408.8 892.1 409.7 892.1 409.3 892.2 410.3 892.3 410.3 892.4 410.4 892.5 409.7 892.6 409.1 892.7 409.0 892.8 408.0 892.9 407.8 893.0 406.9 893.1 405.5 893.2 405.6 893.3 405.1 893.4 403.6 893.5 404.2 893.6 403.1 893.7 402.6 893.8 401.5 893.9 401.3 894.0 400.8 894.1 399.9 894.2 399.5 894.3 397.9 894.4 398.9 894.5 397.2 894.6 396.1 894.7 396.1 894.8 395.5 894.9 395.5 895.0 394.3 895.1 394.2 895.2 393.1 895.3 393.9 895.4 392.6 895.6 392.6 895.8 390.7 896.0 390.9 896.2 389.6 896.4 389.7 896.6 389.2 896.8 387.6 897.0 387.2 897.1 386.6 897.3 385.9 897.5 385.7 897.7 385.0 897.9 384.2 898.1 384.3 898.3 383.9 898.5 382.5 898.6 382.3 898.6 382.0 898.7 381.3 898.8 380.5 898.8 380.6 898.9 380.0 898.9 379.4 899.0 378.4 899.1 378.8 899.1 378.1 899.2 376.6 899.2 376.1 899.3 376.1 899.4 374.6 899.4 374.6 899.5 373.9 899.6 372.9 899.6 372.6 899.7 371.4 899.8 371.3 899.8 370.0 899.9 371.4 899.9 370.5 900.0 369.8 900.3 368.7 900.5 368.5 900.8 368.0 901.0 367.3 901.3 366.6 901.5 365.2 901.8 365.2 902.0 364.2 902.3 363.3 902.6 362.7 902.8 362.9 903.1 362.5 903.3 360.9 903.6 361.7 903.8 360.9 904.1 359.5 904.3 358.9 904.6 358.5 904.7 358.3 904.7 357.1 904.8 356.2 904.8 356.3 904.9 354.6 904.9 355.0 905.0 354.8 905.0 353.9 905.1 353.5 905.1 352.8 905.2 352.3 905.2 351.4 905.3 350.4 905.3 350.0 905.4 349.5 905.4 349.5 905.5 349.1 905.5 347.9 905.6 346.8 905.6 346.2 905.7 345.9 905.7 346.0 905.8 344.9 905.8 344.2 905.9 343.2 905.9 343.4 906.0 342.5 906.0 341.8 906.1 341.2 906.1 341.4 906.2 339.9 906.3 341.4 906.4 341.7 906.5 341.8 906.7 342.8 906.8 342.9 906.9 343.2 907.0 344.0 907.1 344.3 907.2 345.6 907.4 345.9 907.5 346.8 907.6 347.5 907.7 346.3 907.8 348.4 907.9 348.1 908.0 349.6 908.2 349.7 908.3 350.7 908.4 351.9 908.5 351.1 908.6 352.5 908.7 353.0 908.9 352.8 909.0 354.5 909.1 354.8 909.2 355.2 909.2 354.5 909.3 355.7 909.3 353.4 909.4 352.2 909.4 352.0 909.4 351.7 909.5 351.1 909.5 350.6 909.6 349.6 909.6 349.7 909.7 348.7 909.7 347.7 909.7 347.3 909.8 346.9 909.8 346.9 909.9 346.1 909.9 345.2 909.9 344.7 910.0 344.2 910.0 344.5 910.1 342.7 910.1 342.6 910.1 342.1 910.2 340.8 910.2 340.7 910.3 340.1 910.3 339.2 910.3 339.1 910.4 338.7 910.4 338.1 910.5 337.0 910.5 336.5 910.6 336.9 910.6 334.8 910.6 334.8 910.7 334.5 910.7 333.6 910.8 333.2 910.8 332.4 910.9 333.2 910.9 334.1 911.0 334.0 911.0 334.7 911.1 335.2 911.2 335.6 911.2 336.4 911.3 336.5 911.4 337.9 911.4 338.9 911.5 339.5 911.5 339.9 911.6 339.5 911.7 341.2 911.7 340.8 911.8 341.7 911.8 343.1 911.9 342.4 912.0 343.9 912.0 344.2 912.1 344.6 912.2 344.8 912.2 346.0 912.3 346.2 912.3 347.5 912.4 348.1 912.5 347.6 912.5 348.5 912.6 349.2 912.7 349.4 912.7 350.0 912.8 351.2 912.8 351.6 912.9 351.6 912.9 351.5 913.0 351.3 913.0 350.0 913.0 349.5 913.1 350.1 913.1 349.3 913.2 347.4 913.2 347.0 913.2 347.1 913.3 345.8 913.3 345.7 913.3 345.0 913.4 344.9 913.4 342.9 913.4 342.4 913.5 342.3 913.5 342.7 913.6 341.6 913.6 340.3 913.6 340.7 913.7 340.2 913.7 339.2 913.7 338.5 913.8 338.3 913.8 338.0 913.8 337.0 913.9 336.5 913.9 335.7 914.0 335.0 914.0 334.1 914.0 334.1 914.1 333.2 914.1 332.6 914.1 332.6 914.2 331.8 914.2 331.4 914.3 329.7 914.3 330.0 914.3 328.9 914.4 328.2 914.4 327.6 914.4 328.0 914.5 327.2 914.5 325.9 914.5 325.1 914.6 325.1 914.6 324.3 914.7 324.6 914.7 322.6 914.7 321.9 914.8 322.0 914.8 321.5 914.8 321.0 914.9 320.7 914.9 320.7 915.0 319.0 915.0 318.3 915.0 317.2 915.1 317.5 915.1 317.2 915.2 316.1 915.2 316.1 915.2 315.0 915.3 315.1 915.3 314.0 915.4 312.8 915.4 312.4 915.4 311.4 915.5 310.7 915.5 311.0 915.6 310.7 915.6 310.6 915.6 309.1 915.7 308.4 915.7 307.4 915.8 307.8 915.8 306.9 915.8 305.9 915.9 305.9 915.9 305.2 916.0 303.5 916.0 304.1 916.1 303.3 916.1 302.4 916.1 301.8 916.2 302.2 916.2 301.5 916.3 301.1 916.3 299.1 916.3 298.8 916.4 298.9 916.4 297.3 916.5 297.0 916.5 295.9 916.5 296.9 916.6 296.0 916.6 295.1 916.7 294.4 916.7 293.6 916.7 293.0 916.8 292.8 916.8 291.7 916.9 291.9 916.9 290.6 917.0 289.8 917.0 290.2 917.1 289.0 917.1 288.7 917.2 287.7 917.2 286.3 917.3 286.9 917.3 285.5 917.4 286.0 917.5 284.2 917.5 283.5 917.6 283.9 917.6 283.4 917.7 282.6 917.7 281.5 917.8 281.8 917.8 280.2 917.9 280.0 917.9 279.3 918.0 278.9 918.1 278.9 918.1 277.6 918.2 277.6 918.2 277.0 918.3 275.4 918.3 275.0 918.4 274.8 918.4 274.1 918.5 273.9 918.6 273.5 918.7 275.3 918.8 275.9 918.9 276.1 919.0 276.1 919.1 277.3 919.2 277.7 919.3 278.7 919.4 279.0 919.5 280.0 919.6 280.1 919.7 281.5 919.8 280.4 919.9 281.5 920.1 282.8 920.2 282.5 920.3 284.1 920.4 283.8 920.5 285.0 920.6 285.1 920.7 285.9 920.8 286.8 920.9 287.2 921.0 287.7 921.1 289.4 921.2 289.0 921.3 289.2 921.4 290.6 921.5 291.2 921.6 290.8 921.6 290.4 921.7 288.6 921.7 288.9 921.8 288.3 921.8 287.2 921.9 286.7 921.9 284.7 922.0 285.2 922.0 285.6 922.1 283.4 922.1 283.4 922.2 283.2 922.2 282.7 922.3 282.6 922.3 280.5 922.4 280.7 922.4 280.4 922.5 278.9 922.5 278.8 922.6 279.1 922.6 278.3 922.7 277.3 922.7 275.3 922.8 275.8 922.8 275.5 922.9 274.5 922.9 274.1 923.0 274.9 923.0 272.8 923.1 271.9 923.2 273.0 923.4 273.3 923.5 273.9 923.6 274.5 923.8 275.5 923.9 275.8 924.1 275.7 924.2 276.7 924.3 277.6 924.5 277.7 924.6 279.0 924.7 278.3 924.7 276.9 924.8 276.9 924.8 277.0 924.9 276.2 925.0 274.9 925.0 274.7 925.1 273.4 925.1 272.5 925.2 272.8 925.3 272.1 925.3 271.6 925.4 270.8 925.4 270.3 925.5 269.3 925.6 269.2 925.6 268.8 925.7 267.8 925.7 267.6 925.8 265.8 925.9 265.7 925.9 266.1 926.0 265.6 926.0 264.3 926.1 263.6 926.2 262.5 926.2 262.6 926.3 262.2 926.3 260.6 926.4 260.9 926.5 260.3 926.5 259.7 926.6 258.4 926.6 258.5 926.7 257.0 926.8 257.7 926.8 256.5 926.9 255.4 926.9 255.9 927.0 255.2 927.2 253.8 927.3 254.5 927.5 252.4 927.7 252.4 927.9 252.2 928.0 250.1 928.2 251.0 928.4 249.9 928.5 249.3 928.7 248.2 928.9 248.2 929.1 247.0 929.2 246.5 929.4 246.1 929.6 246.3 929.9 248.1 930.1 247.4 930.3 248.2 930.5 248.9 930.8 249.7 931.0 250.6 931.2 251.1 931.4 251.2 931.6 251.7 931.9 252.5 932.1 253.4 932.2 252.7 932.2 251.6 932.3 250.3 932.4 251.6 932.5 250.5 932.5 249.6 932.6 249.0 932.7 248.1 932.8 247.3 932.8 247.0 932.9 246.4 933.0 245.7 933.1 244.7 933.1 244.6 933.2 244.5 933.3 243.4 933.4 243.0 933.4 241.5 933.5 241.8 933.6 241.2 933.7 240.1 933.7 239.3 933.8 239.7 933.8 239.7 933.9 240.9 933.9 241.1 933.9 242.2 934.0 242.3 934.0 242.4 934.1 243.7 934.1 244.2 934.1 245.2 934.2 245.3 934.2 245.9 934.2 247.1 934.3 247.8 934.3 248.2 934.4 249.0 934.4 249.3 934.4 250.0 934.5 250.7 934.5 251.1 934.5 251.5 934.6 252.2 934.6 253.8 934.7 253.3 934.7 253.8 934.7 254.3 934.8 255.1 934.8 255.8 934.8 255.8 934.9 256.0 934.9 257.6 935.0 257.4 935.0 258.8 935.0 259.4 935.1 260.4 935.1 261.3 935.1 261.3 935.2 261.5 935.2 261.8 935.3 262.5 935.3 263.5 935.3 262.0 935.4 262.3 935.4 261.7 935.5 261.4 935.5 260.4 935.5 260.0 935.6 259.0 935.6 258.6 935.7 257.4 935.7 257.6 935.7 257.7 935.8 256.5 935.8 256.0 935.9 254.8 935.9 255.3 935.9 253.7 936.0 253.8 936.0 252.9 936.0 251.8 936.1 252.1 936.1 251.1 936.2 250.6 936.2 250.1 936.2 249.3 936.3 248.5 936.3 248.3 936.4 247.3 936.4 247.0 936.4 246.0 936.5 245.1 936.5 244.8 936.6 244.3 936.6 244.0 936.6 243.9 936.7 242.0 936.7 242.2 936.8 240.6 936.8 240.5 936.9 240.2 937.0 238.8 937.1 238.4 937.2 238.8 937.3 238.1 937.4 237.5 937.5 236.6 937.6 237.3 937.7 235.7 937.9 234.8 938.0 235.4 938.1 234.3 938.2 233.3 938.3 233.4 938.4 232.4 938.5 232.0 938.6 231.3 938.7 230.1 938.8 230.4 939.2 229.6 939.6 228.5 940.0 228.1 940.4 228.4 940.8 227.3 941.2 226.9 941.3 226.6 941.4 225.8 941.5 224.4 941.6 224.8 941.7 224.4 941.8 223.7 941.8 223.5 941.9 222.3 942.0 221.9 942.1 221.7 942.2 220.3 942.3 220.6 942.4 220.0 942.5 219.0 942.6 218.8 942.7 217.8 942.8 216.4 942.9 216.8 943.0 215.8 943.0 215.2 943.1 214.5 943.2 214.5 943.3 213.5 943.4 212.4 943.5 212.3 943.6 211.8 943.7 210.6 943.8 210.1 943.8 209.6 943.9 208.9 944.0 208.7 944.1 208.4 944.2 208.2 944.2 207.3 944.3 206.7 944.4 206.1 944.5 205.6 944.6 204.3 944.6 204.1 944.7 203.4 944.8 202.6 944.9 201.9 945.0 201.2 945.0 200.8 945.1 199.7 945.2 199.9 945.3 199.1 945.3 198.6 945.4 198.1 945.5 197.7 945.6 196.5 945.7 196.1 945.7 194.9 945.8 194.0 945.9 193.5 946.0 194.5 946.1 192.4 946.1 192.8 946.2 192.7 946.3 191.2 946.4 191.6 946.5 191.1 946.5 190.1 946.6 190.2 946.7 188.8 947.2 188.5 947.8 189.5 948.3 189.4 948.8 189.4 948.9 190.0 949.1 192.2 949.2 191.5 949.3 192.3 949.5 192.6 949.6 193.5 949.8 193.9 949.9 194.4 950.0 194.6 950.2 195.1 950.3 196.0 950.5 197.0 950.6 198.4 950.7 198.5 950.9 199.5 951.0 199.4 951.1 199.8 951.1 199.8 951.2 201.0 951.2 200.6 951.3 202.1 951.3 203.5 951.4 203.5 951.5 204.5 951.5 204.4 951.6 204.6 951.6 205.6 951.7 206.2 951.8 207.5 951.8 208.5 951.9 207.8 951.9 208.6 952.0 209.3 952.0 209.8 952.1 210.0 952.2 211.2 952.2 211.9 952.3 212.5 952.3 212.4 952.4 213.5 952.5 213.3 952.5 215.1 952.6 214.9 952.6 215.8 952.7 216.3 952.7 216.9 952.8 217.2 952.8 216.3 952.9 217.3 952.9 216.0 952.9 215.4 953.0 215.7 953.0 214.1 953.0 213.8 953.1 212.9 953.1 212.8 953.1 211.9 953.1 211.3 953.2 210.4 953.2 210.0 953.2 209.8 953.3 207.8 953.3 208.1 953.3 207.3 953.4 206.8 953.4 205.4 953.4 206.0 953.5 204.7 953.5 204.4 953.5 203.7 953.6 202.6 953.6 202.5 953.6 201.3 953.7 201.1 953.7 200.8 953.7 200.3 953.8 199.7 953.8 199.1 953.8 199.5 953.8 198.1 953.9 196.8 953.9 196.4 953.9 195.8 954.0 195.4 954.0 194.6 954.0 193.9 954.1 194.5 954.1 193.1 954.1 193.6 954.1 194.2 954.2 194.8 954.2 196.1 954.2 196.3 954.2 197.2 954.2 195.9 954.3 198.1 954.3 199.0 954.3 200.0 954.3 199.7 954.4 199.5 954.4 201.2 954.4 201.2 954.4 201.3 954.4 202.4 954.5 203.8 954.5 204.4 954.5 204.8 954.5 204.6 954.5 206.8 954.6 205.8 954.6 206.8 954.6 206.8 954.6 208.7 954.6 208.9 954.7 209.7 954.7 209.9 954.7 210.4 954.7 211.2 954.7 210.8 954.8 212.7 954.8 213.3 954.8 213.3 954.8 214.1 954.9 214.8 954.9 216.0 954.9 216.1 954.9 216.5 954.9 216.8 955.0 217.0 955.0 218.0 955.0 218.9 955.0 219.3 955.0 220.1 955.1 221.0 955.1 221.5 955.1 222.0 955.1 222.7 955.1 223.1 955.2 223.6 955.2 224.5 955.2 224.1 955.2 226.0 955.2 225.5 955.3 227.0 955.3 227.2 955.3 228.3 955.3 228.5 955.4 228.6 955.4 230.1 955.4 230.3 955.4 230.9 955.4 231.5 955.5 232.5 955.5 233.0 955.5 233.3 955.5 233.1 955.5 234.2 955.6 235.1 955.6 236.4 955.6 236.4 955.6 235.6 955.7 235.6 955.7 234.4 955.7 233.8 955.7 233.3 955.8 232.0 955.8 232.5 955.8 231.7 955.9 230.7 955.9 229.8 955.9 229.8 955.9 229.7 956.0 228.2 956.0 227.4 956.0 227.5 956.0 226.0 956.1 225.1 956.1 225.3 956.1 224.6 956.2 224.2 956.2 223.5 956.2 223.3 956.2 222.4 956.3 221.7 956.3 221.2 956.3 221.0 956.4 220.6 956.4 220.0 956.4 219.3 956.4 216.9 956.5 217.3 956.5 217.1 956.5 216.7 956.6 215.3 956.6 216.1 956.6 215.0 956.6 213.9 956.7 213.7 956.7 212.9 956.7 212.1 956.8 212.1 956.8 211.0 956.8 210.0 956.8 209.8 956.9 209.4 956.9 208.4 956.9 208.8 956.9 207.2 957.0 207.9 957.0 206.9 957.0 205.5 957.1 205.4 957.1 205.2 957.1 204.0 957.1 203.0 957.2 203.0 957.2 203.2 957.3 201.1 957.3 201.4 957.4 200.6 957.4 199.9 957.5 199.2 957.6 198.7 957.6 198.7 957.7 197.9 957.8 196.6 957.8 197.2 957.9 195.3 957.9 195.6 958.0 194.8 958.1 194.7 958.1 193.7 958.2 193.5 958.3 192.4 958.3 192.3 958.4 191.4 958.4 191.6 958.5 189.8 958.6 190.0 958.6 189.1 958.7 188.4 958.8 187.5 958.8 187.4 958.9 185.9 958.9 185.4 959.0 185.8 959.1 185.3 959.2 187.2 959.2 187.1 959.3 187.9 959.4 188.4 959.5 189.1 959.5 189.4 959.6 189.9 959.7 190.6 959.8 191.7 959.8 192.4 959.9 193.0 960.0 193.2 960.1 193.5 960.1 193.4 960.2 195.0 960.3 195.7 960.4 195.7 960.4 196.9 960.5 197.7 960.6 197.7 960.7 198.7 960.7 199.0 960.8 198.6 960.9 199.8 961.0 200.4 961.0 201.4 961.1 201.4 961.2 202.1 961.3 201.3 961.4 201.2 961.5 200.7 961.6 200.5 961.8 199.9 961.9 199.0 962.0 198.5 962.1 197.8 962.2 197.3 962.3 197.3 962.4 195.0 962.5 195.4 962.6 195.1 962.7 194.9 962.9 193.3 963.0 193.4 963.1 193.1 963.2 191.9 963.3 190.7 963.4 190.8 963.4 189.8 963.5 190.1 963.6 188.8 963.7 189.4 963.7 188.1 963.8 187.1 963.9 186.6 964.0 185.7 964.0 185.8 964.1 185.7 964.2 184.4 964.2 184.3 964.3 182.9 964.4 182.8 964.5 183.2 964.5 180.9 964.6 181.5 964.7 180.9 964.8 178.9 964.8 178.5 964.9 178.1 965.0 178.4 965.1 177.2 965.1 176.7 965.2 176.6 965.3 176.9 965.3 177.5 965.4 177.8 965.5 179.1 965.6 178.8 965.6 180.5 965.7 180.2 965.8 180.5 965.9 181.8 965.9 182.3 966.0 181.8 966.1 183.3 966.1 183.2 966.2 184.0 966.3 185.3 966.4 185.2 966.4 186.3 966.5 186.6 966.6 188.2 966.6 187.8 966.7 187.9 966.8 188.6 966.9 189.2 966.9 190.3 967.0 190.8 967.1 191.8 967.2 192.0 967.2 192.6 967.3 193.3 967.4 192.5 967.5 192.1 967.7 191.7 967.8 191.1 967.9 189.9 968.0 188.7 968.2 188.6 968.3 188.5 968.4 186.6 968.5 186.9 968.6 186.7 968.8 185.7 968.9 184.8 969.0 185.5 969.1 184.8 969.3 183.4 969.4 183.5 969.5 182.9 969.6 181.3 969.7 182.4 969.8 180.2 969.9 179.9 970.0 179.0 970.1 179.0 970.2 177.8 970.3 177.8 970.4 177.7 970.4 176.7 970.5 176.0 970.6 176.2 970.7 174.5 970.8 174.8 970.9 173.7 971.0 173.3 971.1 172.7 971.2 172.1 971.3 171.5 971.3 170.6 971.3 170.1 971.4 169.9 971.4 169.1 971.4 168.0 971.4 167.6 971.4 167.0 971.4 166.7 971.5 166.2 971.5 165.6 971.5 164.7 971.5 164.4 971.5 163.1 971.6 161.9 971.6 162.5 971.6 161.2 971.6 160.9 971.6 160.2 971.6 160.5 971.7 159.0 971.7 159.1 971.7 158.2 971.7 157.2 971.7 156.5 971.7 156.8 971.8 156.2 971.8 155.7 971.8 155.6 971.8 154.3 971.8 153.7 971.9 152.9 971.9 152.5 971.9 151.7 971.9 150.8 971.9 151.5 971.9 149.2 972.0 149.5 972.0 149.0 972.0 148.3 972.0 147.2 972.0 146.9 972.1 146.2 972.1 145.4 972.1 145.2 972.1 144.5 972.1 143.8 972.1 143.8 972.2 142.4 972.2 142.4 972.2 141.4 972.2 141.2 972.2 140.5 972.2 140.0 972.3 138.8 972.3 138.3 972.3 137.7 972.3 137.5 972.3 137.2 972.4 136.8 972.4 135.5 972.4 135.1 972.4 133.8 972.4 132.9 972.4 132.9 972.5 132.4 972.5 131.4 972.5 130.7 972.5 131.2 972.6 130.0 972.6 129.0 972.6 130.2 972.7 128.7 972.7 127.9 972.7 127.7 972.8 126.5 972.8 127.0 972.8 125.0 972.9 124.5 972.9 124.4 972.9 123.6 973.0 124.0 973.0 122.0 973.1 121.8 973.1 121.7 973.1 121.3 973.2 120.9 973.2 120.0 973.2 120.2 973.3 118.5 973.3 118.2 973.3 117.9 973.4 116.8 973.4 116.2 973.4 115.5 973.5 114.9 973.5 114.1 973.6 114.9 973.7 115.0 973.8 116.5 974.0 116.2 974.1 118.4 974.2 118.8 974.3 119.1 974.4 119.1 974.5 118.3 974.5 118.5 974.6 117.5 974.6 117.1 974.7 115.9 974.7 116.1 974.8 114.7 974.9 114.5 974.9 113.1 975.0 113.0 975.0 112.9 975.1 111.9 975.1 111.3 975.2 111.2 975.3 110.3 975.3 110.3 975.4 108.0 975.4 108.8 975.5 108.2 975.6 106.6 975.6 106.2 975.7 106.5 975.7 105.1 975.8 104.7 975.8 104.6 975.9 103.6 976.0 103.4 976.1 102.2 976.1 102.2 976.2 101.9 976.3 101.0 976.4 99.3 976.4 100.0 976.5 99.1 976.6 98.1 976.7 98.6 976.7 96.6 976.8 97.6 976.9 95.9 977.0 96.3 977.0 95.0 977.1 93.9 977.2 93.9 977.3 93.4 977.3 92.9 977.4 92.6 977.5 91.1 977.6 91.2 977.6 90.7 977.7 89.7 977.8 88.8 977.9 88.2 977.9 88.4 978.0 87.8 978.1 86.5 978.5 85.8 978.9 86.4 979.3 85.4" stroke="#ff0000" stroke-width="3.4" fill="none" stroke-linejoin="round"/>
<path d="M30.0 562.0 30.6 561.3 31.2 562.0 31.8 561.6 32.4 561.1 33.0 562.0 33.6 561.8 34.2 562.5 34.8 562.9 35.4 561.8 36.0 562.3 36.6 562.3 37.2 561.6 37.8 561.5 38.4 562.6 39.0 561.7 39.6 561.8 40.2 561.7 40.8 561.7 41.4 561.5 42.0 562.1 42.6 562.3 43.2 561.6 43.8 561.1 44.4 561.8 45.0 561.1 45.6 561.4 46.2 562.3 46.8 562.7 47.4 561.9 48.0 561.2 48.6 562.0 49.2 560.6 49.8 561.3 50.4 562.3 51.0 562.0 51.6 561.0 52.2 560.9 52.8 562.0 53.4 561.6 54.0 561.3 54.6 561.7 55.2 561.3 55.8 560.7 56.4 561.9 57.0 561.2 57.6 561.1 58.2 560.9 58.8 561.6 59.4 561.1 60.0 561.8 60.6 561.4 61.2 562.0 61.8 561.3 62.4 561.2 62.9 560.6 63.5 561.0 64.1 561.9 64.7 562.9 65.3 561.0 65.9 561.1 66.5 561.7 67.1 561.8 67.6 561.3 68.2 561.6 68.8 560.9 69.4 561.5 70.0 562.0 70.6 562.4 71.2 561.6 71.8 561.5 72.4 561.9 72.9 562.2 73.5 561.9 74.1 561.4 74.7 561.9 75.3 562.1 75.9 561.4 76.5 561.1 77.1 562.0 77.6 561.9 78.2 562.2 78.8 561.8 79.4 561.5 80.0 561.6 80.6 561.4 81.2 561.4 81.8 561.7 82.4 561.8 83.0 562.5 83.6 561.5 84.2 562.1 84.8 561.9 85.4 562.9 86.0 562.4 86.6 562.1 87.2 562.7 87.8 562.4 88.4 562.2 89.0 563.2 89.6 562.9 90.2 563.4 90.8 563.2 91.4 563.0 92.0 562.8 92.6 562.3 93.2 563.2 93.8 562.9 94.4 563.2 95.0 563.0 95.6 562.7 96.2 562.6 96.8 563.4 97.4 563.7 98.0 563.1 98.6 563.4 99.2 563.9 99.8 562.9 100.4 563.2 101.0 562.9 101.6 563.9 102.2 563.6 102.8 563.3 103.4 562.8 104.0 563.5 104.6 564.1 105.2 563.5 105.8 563.5 106.4 564.0 107.0 563.2 107.6 563.8 108.2 564.1 108.8 563.6 109.4 563.6 110.0 564.1 110.6 563.9 111.2 563.9 111.8 564.1 112.4 564.1 113.0 563.6 113.6 563.7 114.2 564.2 114.8 564.5 115.4 564.6 116.0 563.6 116.5 564.5 117.1 564.3 117.7 564.0 118.3 564.2 118.9 564.4 119.5 564.8 120.1 563.5 120.7 564.3 121.3 563.9 121.9 563.9 122.5 564.5 123.1 564.3 123.7 563.5 124.3 563.9 124.9 564.1 125.5 563.4 126.1 564.4 126.7 564.0 127.3 564.1 127.9 564.1 128.5 564.8 129.0 564.0 129.6 563.8 130.2 564.8 130.8 563.8 131.4 563.8 132.0 563.4 132.6 564.5 133.2 564.1 133.8 564.2 134.4 564.1 135.0 563.9 135.6 563.6 136.2 563.6 136.8 564.2 137.4 564.0 138.0 564.7 138.6 563.6 139.2 563.8 139.8 563.5 140.4 564.6 141.0 563.4 141.5 564.3 142.1 564.6 142.7 563.9 143.3 564.3 143.9 563.0 144.5 563.8 145.1 563.2 145.7 564.1 146.3 564.0 146.9 563.6 147.5 564.4 148.1 564.1 148.7 563.8 149.3 563.8 149.9 563.3 150.5 563.9 151.1 564.9 151.7 563.7 152.3 564.2 152.9 563.7 153.5 564.3 154.0 564.2 154.6 563.9 155.2 563.2 155.8 563.8 156.4 564.5 157.0 563.9 157.6 564.3 158.2 563.8 158.8 563.2 159.4 564.2 160.0 564.1 160.6 563.7 161.2 563.8 161.8 564.1 162.4 563.7 162.9 564.1 163.5 563.8 164.1 562.9 164.7 563.8 165.3 563.6 165.9 563.5 166.5 564.0 167.1 563.6 167.7 564.1 168.3 564.3 168.8 563.9 169.4 563.1 170.0 563.4 170.6 564.2 171.2 563.6 171.8 563.4 172.4 563.7 173.0 563.9 173.6 563.8 174.2 564.0 174.7 563.3 175.3 563.5 175.9 563.5 176.5 563.6 177.1 562.7 177.7 563.5 178.3 563.0 178.9 564.2 179.5 564.3 180.1 564.3 180.6 563.9 181.2 563.3 181.8 563.9 182.4 563.4 183.0 563.8 183.6 563.1 184.2 563.3 184.8 563.8 185.3 564.3 185.9 563.6 186.5 564.6 187.1 564.8 187.7 563.1 188.3 563.6 188.9 563.2 189.4 563.6 190.0 563.5 190.6 563.7 191.2 564.2 191.8 564.2 192.4 563.9 193.0 563.8 193.6 563.9 194.1 563.9 194.7 564.1 195.3 563.9 195.9 564.1 196.5 563.3 197.1 564.3 197.7 564.7 198.2 564.0 198.8 563.3 199.4 564.6 200.0 563.8 200.6 562.7 201.2 563.9 201.8 564.3 202.4 564.2 203.0 564.5 203.6 564.3 204.2 564.0 204.8 563.1 205.4 563.5 206.0 564.1 206.6 564.3 207.2 563.5 207.8 563.7 208.4 564.2 209.0 563.1 209.6 563.1 210.2 563.9 210.8 564.1 211.4 563.8 212.0 563.0 212.6 564.0 213.2 563.4 213.8 564.3 214.4 563.9 215.0 564.1 215.6 564.3 216.2 563.8 216.8 564.4 217.4 564.5 218.0 564.2 218.6 564.6 219.2 563.7 219.8 564.4 220.4 564.1 221.0 563.6 221.6 564.0 222.2 563.8 222.8 563.7 223.4 564.0 224.0 564.5 224.6 563.9 225.2 564.1 225.8 563.3 226.4 564.0 227.0 564.5 227.6 564.4 228.2 564.2 228.8 563.8 229.4 563.6 230.0 564.0 230.6 563.4 231.2 563.4 231.8 564.4 232.4 563.6 233.0 564.8 233.6 563.4 234.2 564.2 234.8 563.5 235.4 564.1 236.0 563.5 236.6 564.0 237.2 563.9 237.8 563.8 238.4 564.2 239.0 564.7 239.6 563.7 240.2 564.4 240.8 564.0 241.4 564.0 242.0 565.0 242.6 563.0 243.2 563.7 243.8 563.2 244.4 563.9 245.0 563.9 245.6 565.7 246.2 564.1 246.8 564.8 247.4 564.6 248.0 563.8 248.6 564.2 249.2 564.7 249.8 564.1 250.4 564.1 251.0 564.2 251.6 563.3 252.2 563.6 252.8 564.1 253.4 564.2 254.0 563.6 254.6 563.9 255.2 563.9 255.8 563.9 256.4 564.3 257.0 564.0 257.6 564.1 258.2 563.4 258.8 563.5 259.4 564.1 260.0 563.3 260.6 564.1 261.2 563.7 261.8 563.6 262.4 564.3 263.0 563.7 263.6 563.6 264.2 563.6 264.7 564.0 265.3 565.2 265.9 563.0 266.5 563.9 267.1 563.8 267.7 564.3 268.3 563.7 268.9 562.8 269.5 564.5 270.1 563.4 270.7 563.8 271.3 563.3 271.9 563.4 272.5 563.6 273.1 564.2 273.6 564.2 274.2 563.6 274.8 564.0 275.4 563.6 276.0 563.9 276.6 563.9 277.2 564.1 277.8 563.5 278.4 563.7 279.0 563.9 279.6 563.8 280.2 563.4 280.8 564.5 281.4 563.5 281.9 564.1 282.5 563.8 283.1 564.3 283.7 562.7 284.3 564.6 284.9 563.6 285.5 563.1 286.1 563.7 286.7 564.7 287.3 563.9 287.9 563.1 288.5 563.5 289.1 564.3 289.7 563.0 290.3 563.6 290.8 563.5 291.4 564.6 292.0 563.5 292.6 564.2 293.2 563.3 293.8 563.2 294.4 564.0 295.0 563.9 295.6 562.8 296.2 563.9 296.8 563.8 297.4 563.3 298.0 563.6 298.6 563.6 299.2 563.3 299.8 563.2 300.4 563.2 301.0 563.4 301.6 562.9 302.2 563.4 302.8 562.8 303.4 563.5 303.9 563.4 304.5 563.0 305.1 563.8 305.7 564.3 306.3 564.0 306.9 562.8 307.5 563.9 308.1 563.5 308.7 563.3 309.3 563.1 309.9 563.3 310.5 563.9 311.1 563.5 311.7 563.1 312.3 563.0 312.9 563.1 313.5 563.5 314.1 564.1 314.7 562.8 315.3 563.2 315.9 563.0 316.5 562.9 317.1 563.4 317.7 563.4 318.3 562.5 318.9 562.7 319.5 563.7 320.1 563.3 320.6 563.4 321.2 562.9 321.8 562.9 322.4 563.3 323.0 562.9 323.6 562.6 324.2 563.1 324.8 563.5 325.4 562.6 326.0 563.5 326.6 563.3 327.2 562.6 327.8 563.0 328.4 563.0 329.0 563.3 329.6 563.2 330.2 562.3 330.8 562.3 331.4 563.3 331.9 562.8 332.5 562.9 333.1 562.8 333.7 563.3 334.3 562.1 334.9 563.0 335.5 562.1 336.1 562.8 336.7 563.0 337.3 561.8 337.8 562.5 338.4 562.2 339.0 562.1 339.6 562.2 340.2 561.7 340.8 561.7 341.4 562.4 342.0 562.4 342.6 561.7 343.2 561.3 343.7 562.9 344.3 562.3 344.9 562.0 345.5 561.3 346.1 561.5 346.7 561.8 347.3 561.2 347.9 562.3 348.5 561.6 349.1 561.7 349.6 561.0 350.2 561.0 350.8 561.0 351.4 561.5 352.0 561.2 352.6 561.1 353.2 561.4 353.8 561.3 354.4 561.8 354.9 561.0 355.5 560.7 356.1 561.1 356.7 561.7 357.3 560.8 357.9 561.0 358.5 560.8 359.1 561.1 359.7 561.0 360.3 560.5 360.8 560.7 361.4 561.2 362.0 561.2 362.6 561.1 363.2 561.1 363.8 560.5 364.4 560.5 365.0 561.0 365.6 560.1 366.2 560.5 366.7 559.7 367.3 560.3 367.9 560.1 368.5 559.9 369.1 560.6 369.7 560.0 370.3 560.2 370.9 560.2 371.5 559.9 372.1 560.9 372.6 560.0 373.2 560.3 373.8 559.6 374.4 559.9 375.0 559.9 375.6 559.9 376.2 559.8 376.8 560.1 377.4 560.7 377.9 560.0 378.5 559.9 379.1 559.8 379.7 561.1 380.3 560.7 380.9 560.2 381.5 560.3 382.1 559.6 382.7 559.9 383.3 560.0 383.8 559.9 384.4 559.5 385.0 559.5 385.6 560.1 386.2 560.0 386.8 558.9 387.4 559.9 388.0 560.4 388.6 559.5 389.2 559.9 389.7 559.1 390.3 560.1 390.9 559.2 391.5 559.2 392.1 559.6 392.7 560.7 393.3 559.4 393.9 559.1 394.5 559.9 395.1 559.8 395.6 560.4 396.2 559.1 396.8 558.9 397.4 559.5 398.0 559.8 398.6 559.7 399.2 560.0 399.8 558.9 400.3 559.1 400.9 559.4 401.5 559.8 402.1 559.6 402.7 559.2 403.2 558.9 403.8 559.7 404.4 559.7 405.0 560.5 405.6 559.2 406.2 559.9 406.8 558.7 407.4 558.9 408.0 558.8 408.6 558.9 409.2 558.7 409.8 558.8 410.3 559.0 410.9 558.8 411.5 559.2 412.1 558.9 412.7 558.9 413.3 559.5 413.9 559.0 414.5 558.9 415.1 558.7 415.7 558.8 416.3 558.9 416.9 558.3 417.5 559.1 418.1 559.3 418.7 559.1 419.2 558.3 419.8 557.8 420.4 558.3 421.0 558.5 421.6 558.8 422.2 558.3 422.8 558.2 423.4 559.0 424.0 558.0 424.6 558.8 425.2 558.7 425.8 557.8 426.4 558.5 427.0 558.2 427.6 558.1 428.2 557.7 428.8 557.8 429.3 558.8 429.9 558.4 430.5 558.8 431.1 558.2 431.7 558.6 432.3 558.6 432.9 558.1 433.5 558.1 434.1 559.0 434.7 558.9 435.3 558.5 435.9 558.9 436.5 559.2 437.1 559.8 437.7 558.6 438.2 559.3 438.8 560.0 439.4 559.1 440.0 559.8 440.6 558.0 441.2 559.8 441.8 559.2 442.4 558.4 443.0 559.6 443.6 559.9 444.1 560.2 444.7 560.4 445.3 560.0 445.9 559.9 446.4 560.2 447.0 560.6 447.6 561.0 448.2 560.8 448.8 561.2 449.3 561.8 449.9 561.7 450.5 562.8 451.1 562.9 451.6 561.6 452.2 562.1 452.8 561.9 453.4 562.2 453.9 563.1 454.5 562.6 455.1 562.6 455.7 563.0 456.2 563.4 456.8 562.9 457.4 562.9 458.0 563.5 458.5 563.3 459.1 563.3 459.7 563.5 460.3 562.6 460.8 563.2 461.4 562.8 462.0 563.5 462.6 563.3 463.1 562.3 463.7 563.2 464.3 561.9 464.9 562.8 465.4 562.2 466.0 561.5 466.6 561.2 467.1 561.4 467.7 561.4 468.3 560.9 468.8 561.3 469.4 560.2 470.0 560.7 470.6 560.5 471.1 559.5 471.7 560.3 472.3 559.6 472.9 559.0 473.5 559.8 474.1 560.0 474.7 560.4 475.3 559.8 475.9 560.6 476.4 560.6 477.0 560.4 477.6 560.5 478.2 560.0 478.8 559.6 479.4 560.1 480.0 560.2 480.6 559.9 481.2 559.6 481.8 559.0 482.4 560.0 483.0 559.8 483.6 559.0 484.2 559.6 484.8 559.9 485.4 559.5 485.9 559.9 486.5 559.8 487.1 558.8 487.7 559.3 488.3 559.6 488.9 559.8 489.5 560.0 490.1 558.5 490.7 559.3 491.3 559.6 491.9 559.8 492.5 560.0 493.1 558.8 493.7 559.0 494.3 558.7 494.9 559.5 495.5 558.5 496.1 559.6 496.7 559.5 497.3 559.3 497.9 558.1 498.4 558.7 499.0 559.3 499.6 558.3 500.2 558.8 500.8 558.9 501.4 559.3 502.0 559.0 502.6 559.0 503.2 558.7 503.8 558.8 504.4 558.7 505.0 559.1 505.6 558.7 506.2 559.2 506.8 558.0 507.4 559.3 508.0 558.6 508.6 559.2 509.2 558.7 509.8 559.0 510.4 559.3 511.0 558.4 511.6 558.6 512.2 558.5 512.8 558.7 513.4 557.8 514.0 558.5 514.6 558.4 515.2 558.1 515.8 558.4 516.4 557.8 517.0 559.1 517.6 558.6 518.2 559.2 518.8 558.0 519.4 557.9 520.0 558.5 520.6 557.6 521.2 558.4 521.8 558.0 522.4 558.1 523.0 558.4 523.6 558.3 524.2 559.1 524.8 558.5 525.4 557.6 526.0 558.6 526.6 557.6 527.2 558.3 527.8 557.7 528.4 557.9 529.0 558.9 529.6 558.0 530.2 558.0 530.8 558.1 531.4 558.2 532.0 559.0 532.5 557.9 533.1 557.9 533.7 558.7 534.3 557.7 534.9 558.3 535.5 559.0 536.1 558.5 536.7 558.3 537.3 558.2 537.9 558.1 538.5 558.3 539.1 558.7 539.7 559.2 540.3 559.1 540.9 558.4 541.5 558.3 542.1 559.0 542.7 557.9 543.3 558.5 543.9 558.6 544.5 558.3 545.1 558.3 545.6 558.9 546.2 558.1 546.8 558.4 547.4 558.6 548.0 558.9 548.6 558.3 549.2 559.4 549.8 558.8 550.4 558.8 551.0 558.8 551.6 558.7 552.2 558.5 552.8 559.4 553.4 559.0 554.0 558.8 554.6 559.3 555.2 558.5 555.8 559.1 556.4 558.8 557.0 558.4 557.6 559.1 558.2 558.0 558.8 559.0 559.4 558.3 560.0 558.8 560.6 559.2 561.2 558.8 561.8 558.3 562.4 558.5 563.0 558.3 563.6 558.0 564.1 558.0 564.7 558.4 565.3 558.6 565.9 557.6 566.5 558.3 567.1 558.5 567.7 558.3 568.3 557.8 568.9 558.7 569.5 557.7 570.1 558.5 570.7 558.9 571.3 557.2 571.9 558.2 572.5 558.2 573.1 558.2 573.7 557.7 574.3 557.9 574.9 557.4 575.5 558.0 576.1 558.2 576.7 557.6 577.3 557.5 577.9 557.7 578.5 557.8 579.1 557.9 579.7 557.8 580.3 557.8 580.9 557.2 581.5 556.5 582.1 558.0 582.7 558.3 583.3 557.0 583.9 557.3 584.5 557.7 585.1 558.0 585.7 557.8 586.3 558.1 586.9 557.5 587.5 557.7 588.0 557.6 588.6 557.2 589.2 557.9 589.8 557.7 590.4 557.8 591.0 557.2 591.6 557.8 592.2 556.8 592.8 557.4 593.4 556.1 594.0 556.8 594.6 557.5 595.2 557.0 595.8 557.2 596.4 556.4 597.0 557.8 597.6 557.3 598.2 557.0 598.8 557.2 599.4 557.1 600.0 557.6 600.6 557.0 601.2 556.3 601.8 556.8 602.4 557.4 603.0 557.1 603.6 556.6 604.2 557.1 604.8 556.8 605.4 557.0 606.0 556.0 606.6 556.3 607.2 557.0 607.8 556.6 608.4 556.8 609.0 557.5 609.5 556.5 610.1 556.7 610.7 556.3 611.3 556.3 611.9 556.5 612.5 555.9 613.1 555.6 613.7 557.1 614.3 556.4 614.9 556.9 615.5 556.5 616.1 556.5 616.7 556.7 617.3 556.7 617.9 555.8 618.5 556.8 619.1 555.9 619.7 556.4 620.3 557.4 620.9 556.3 621.5 556.9 622.1 556.0 622.7 556.4 623.3 556.2 623.9 556.3 624.5 555.7 625.1 555.7 625.7 556.2 626.3 555.3 626.9 555.6 627.5 556.3 628.0 555.7 628.6 555.6 629.2 555.4 629.8 556.0 630.4 555.7 631.0 555.9 631.6 555.8 632.2 556.6 632.8 555.6 633.4 554.9 634.0 555.8 634.6 555.7 635.2 555.8 635.8 555.0 636.4 556.2 637.0 555.6 637.6 555.7 638.2 555.0 638.8 555.9 639.4 555.7 640.0 556.4 640.6 555.6 641.2 555.3 641.8 555.9 642.4 555.5 643.0 556.1 643.6 555.4 644.2 555.9 644.8 555.9 645.4 556.0 646.0 555.8 646.5 555.7 647.1 556.0 647.7 555.8 648.3 556.2 648.9 556.0 649.5 555.1 650.1 556.1 650.7 556.8 651.3 556.3 651.9 556.5 652.5 556.4 653.1 556.1 653.7 555.7 654.3 556.7 654.9 556.8 655.5 556.6 656.1 556.6 656.7 556.6 657.3 556.4 657.9 556.6 658.5 556.5 659.1 556.6 659.7 556.1 660.3 556.3 660.9 556.8 661.5 556.4 662.1 555.6 662.7 556.7 663.3 555.7 663.9 557.5 664.5 557.0 665.0 557.0 665.6 556.5 666.2 556.3 666.8 556.7 667.4 556.8 668.0 556.5 668.6 556.9 669.2 557.2 669.8 557.2 670.4 556.5 671.0 556.0 671.6 557.0 672.2 556.7 672.8 557.2 673.4 557.7 674.0 557.8 674.6 557.2 675.2 557.5 675.8 557.7 676.4 557.0 677.0 557.1 677.6 557.3 678.2 556.9 678.8 556.7 679.4 556.5 680.0 556.8 680.6 556.5 681.2 557.1 681.8 556.6 682.4 557.4 683.0 557.2 683.5 556.2 684.1 557.1 684.7 556.5 685.3 557.2 685.9 556.8 686.5 556.6 687.1 556.9 687.7 556.3 688.3 556.7 688.9 556.7 689.5 556.4 690.1 556.6 690.7 556.0 691.3 556.7 691.9 555.9 692.5 556.6 693.1 556.5 693.7 556.6 694.3 556.1 694.9 557.6 695.5 556.2 696.1 556.3 696.7 555.9 697.3 556.8 697.9 556.0 698.5 556.6 699.1 555.7 699.7 556.2 700.3 555.9 700.9 556.5 701.5 555.9 702.0 555.6 702.6 556.2 703.2 555.5 703.8 555.5 704.4 556.3 705.0 555.1 705.6 556.2 706.2 555.7 706.8 555.4 707.4 555.9 708.0 556.1 708.6 555.5 709.2 555.7 709.8 556.1 710.4 556.0 711.0 555.7 711.6 555.3 712.2 555.2 712.8 555.4 713.4 555.9 714.0 555.8 714.5 555.7 715.1 556.2 715.7 555.4 716.3 555.4 716.9 555.4 717.5 556.3 718.1 554.6 718.7 555.6 719.3 555.6 719.9 555.5 720.4 556.4 721.0 555.9 721.6 555.7 722.2 555.0 722.8 555.6 723.4 555.2 724.0 555.3 724.6 555.4 725.2 555.1 725.8 555.5 726.4 555.9 726.9 555.7 727.5 555.3 728.1 554.4 728.7 555.7 729.3 555.6 729.9 555.1 730.5 554.9 731.1 555.4 731.7 554.8 732.3 555.4 732.8 554.6 733.4 554.7 734.0 555.0 734.6 554.4 735.2 555.0 735.8 555.2 736.4 554.5 737.0 555.4 737.6 554.8 738.2 555.3 738.8 555.2 739.3 555.0 739.9 555.0 740.5 554.5 741.1 555.0 741.7 555.0 742.3 556.0 742.9 555.8 743.5 554.8 744.1 555.7 744.7 555.5 745.3 555.3 745.9 555.7 746.5 555.9 747.0 555.3 747.6 555.5 748.2 555.7 748.8 555.2 749.4 555.7 750.0 555.7 750.6 555.4 751.2 555.4 751.8 555.9 752.4 556.2 753.0 556.0 753.6 555.5 754.2 556.2 754.8 556.0 755.4 556.2 756.0 556.5 756.5 555.7 757.1 556.0 757.7 555.8 758.3 555.8 758.9 557.0 759.5 556.6 760.1 555.5 760.7 556.4 761.3 556.0 761.9 556.8 762.5 556.4 763.1 556.3 763.7 556.5 764.3 556.6 764.9 556.5 765.5 556.4 766.1 556.5 766.7 556.8 767.3 556.1 767.9 556.6 768.5 556.6 769.1 556.5 769.6 557.0 770.2 556.2 770.8 556.6 771.4 556.4 772.0 557.0 772.6 556.7 773.2 556.9 773.8 557.1 774.4 556.3 775.0 557.2 775.6 556.7 776.2 556.9 776.8 557.0 777.4 557.4 778.0 557.4 778.6 557.9 779.2 557.3 779.8 557.0 780.4 557.0 781.0 557.5 781.6 558.0 782.1 557.5 782.7 557.1 783.3 557.5 783.9 557.5 784.5 557.5 785.1 557.2 785.7 556.4 786.3 557.3 786.9 558.0 787.5 557.7 788.1 556.7 788.7 557.7 789.3 556.9 789.9 558.6 790.5 557.8 791.1 557.3 791.7 558.2 792.3 557.5 792.9 558.1 793.5 557.9 794.1 557.4 794.7 558.2 795.2 557.4 795.8 558.6 796.4 558.1 797.0 557.7 797.6 557.4 798.2 558.8 798.8 558.8 799.4 557.7 800.0 558.9 800.6 558.3 801.2 558.2 801.8 558.2 802.4 558.2 803.0 558.9 803.6 558.3 804.2 557.4 804.8 559.1 805.4 558.6 806.0 557.7 806.6 558.0 807.2 557.7 807.8 558.1 808.4 558.3 809.0 558.2 809.6 557.8 810.2 557.7 810.8 558.4 811.4 558.0 812.0 558.9 812.6 557.6 813.2 558.3 813.8 558.0 814.4 557.6 815.0 558.5 815.6 557.9 816.2 557.5 816.8 557.7 817.4 558.3 818.0 557.3 818.6 558.4 819.2 558.1 819.8 557.7 820.4 558.3 821.0 558.5 821.6 558.0 822.2 557.8 822.8 558.5 823.4 558.3 824.0 557.3 824.6 557.5 825.2 557.5 825.8 557.4 826.4 557.0 827.0 557.9 827.6 557.6 828.2 557.6 828.8 558.1 829.4 557.3 830.0 557.5 830.6 557.6 831.2 557.3 831.8 557.4 832.4 557.7 833.0 557.4 833.6 557.9 834.2 557.0 834.8 557.4 835.4 556.7 836.0 557.3 836.6 557.0 837.2 557.9 837.8 557.6 838.4 557.5 839.0 558.0 839.6 557.8 840.2 557.5 840.8 556.9 841.4 556.5 842.0 557.1 842.6 557.0 843.2 556.8 843.8 557.0 844.4 556.4 845.0 557.7 845.6 556.6 846.2 556.7 846.8 557.2 847.4 556.3 848.0 557.4 848.6 557.3 849.2 556.8 849.8 556.5 850.4 556.7 851.0 556.1 851.6 557.5 852.2 556.9 852.8 556.5 853.4 556.4 854.0 557.0 854.6 557.4 855.2 556.2 855.8 556.5 856.4 556.0 857.0 557.0 857.6 556.8 858.2 557.6 858.8 556.6 859.4 556.5 860.0 556.3 860.6 557.0 861.2 555.9 861.8 556.9 862.4 556.7 863.0 556.3 863.6 556.1 864.2 557.0 864.8 557.3 865.4 556.3 866.0 556.7 866.6 557.2 867.2 556.2 867.8 556.3 868.4 555.9 869.0 556.3 869.6 556.3 870.2 556.2 870.8 556.0 871.4 555.6 872.0 555.7 872.6 555.9 873.2 556.5 873.8 556.0 874.4 555.9 875.0 556.5 875.6 556.4 876.2 555.9 876.7 555.9 877.3 556.4 877.9 556.3 878.5 555.8 879.0 556.2 879.6 556.1 880.2 556.6 880.8 555.7 881.4 556.4 881.9 556.2 882.5 555.6 883.1 556.5 883.7 556.4 884.2 555.4 884.8 556.8 885.4 555.5 886.0 555.5 886.5 555.8 887.1 556.2 887.7 556.2 888.3 555.9 888.9 556.5 889.5 556.1 890.1 556.5 890.6 557.1 891.2 556.0 891.8 554.8 892.4 555.7 893.0 555.5 893.6 556.0 894.2 556.0 894.8 555.4 895.4 555.5 896.0 555.8 896.5 555.9 897.1 554.8 897.7 556.4 898.3 556.0 898.9 556.0 899.5 556.1 900.1 555.5 900.7 556.0 901.3 556.4 901.8 556.5 902.4 556.2 903.0 555.9 903.6 555.7 904.2 556.6 904.8 556.3 905.4 555.8 906.0 555.1 906.6 555.7 907.1 555.2 907.7 556.6 908.3 556.1 908.9 555.7 909.5 555.9 910.1 557.2 910.7 556.6 911.3 555.5 911.9 556.0 912.5 555.5 913.0 555.3 913.6 556.2 914.2 557.2 914.8 556.8 915.4 556.1 916.0 555.9 916.6 556.2 917.2 556.5 917.7 555.4 918.3 555.2 918.9 556.8 919.5 556.1 920.1 556.7 920.7 556.0 921.3 556.6 921.9 555.6 922.4 556.1 923.0 556.5 923.6 556.3 924.2 555.6 924.8 556.2 925.4 555.5 926.0 555.1 926.6 556.0 927.1 556.3 927.7 556.1 928.3 555.1 928.9 556.0 929.5 555.9 930.1 555.4 930.7 554.5 931.3 556.0 931.8 556.0 932.4 555.8 933.0 554.8 933.6 554.8 934.2 555.9 934.8 555.8 935.4 555.7 936.0 555.3 936.5 555.6 937.1 555.1 937.7 555.2 938.3 555.0 938.9 555.4 939.5 555.1 940.1 555.7 940.7 555.6 941.2 554.9 941.8 556.1 942.4 554.7 943.0 555.4 943.6 555.7 944.2 555.9 944.8 554.3 945.4 555.8 946.0 556.0 946.6 556.1 947.2 554.5 947.8 555.2 948.4 555.5 949.0 555.4 949.5 556.3 950.1 555.4 950.7 556.3 951.3 556.1 951.9 555.2 952.5 555.4 953.1 555.7 953.7 556.0 954.3 556.5 954.9 556.0 955.5 556.5 956.1 555.3 956.7 554.6 957.3 555.8 957.9 556.0 958.5 555.6 959.1 555.3 959.7 555.8 960.3 556.5 960.9 555.5 961.5 555.1 962.1 555.0 962.7 556.2 963.3 555.2 963.9 555.5 964.5 555.7 965.1 555.6 965.7 554.6 966.3 555.4 966.9 555.3 967.4 555.0 968.0 555.2 968.6 554.4 969.2 554.6 969.8 554.3 970.4 554.8 971.0 554.1 971.6 554.5 972.2 553.8 972.8 554.2 973.4 554.0 974.0 554.1 974.6 554.1 975.2 553.9 975.8 553.8 976.4 552.9 977.0 554.3 977.6 553.4 978.2 553.6 978.8 553.6" stroke="#0000ff" stroke-width="4.0" fill="none" stroke-linejoin="round"/>
<path d="M30.0 561.7 30.6 561.1 31.2 562.4 31.8 561.0 32.4 562.0 33.0 562.5 33.6 562.8 34.2 562.5 34.8 562.1 35.4 560.8 36.0 562.5 36.6 562.4 37.2 562.2 37.8 562.1 38.4 561.6 39.0 561.2 39.6 562.3 40.2 562.4 40.8 560.8 41.4 562.2 42.0 561.7 42.6 562.1 43.2 561.7 43.8 562.3 44.4 562.2 45.0 562.1 45.6 560.5 46.2 562.0 46.8 561.5 47.4 560.6 48.0 561.9 48.6 560.4 49.2 562.0 49.8 562.6 50.4 561.0 51.0 562.0 51.6 561.7 52.2 561.8 52.8 560.4 53.4 561.7 54.0 561.4 54.6 561.8 55.2 561.3 55.8 562.0 56.4 561.5 57.0 561.7 57.6 562.2 58.2 561.4 58.8 561.9 59.4 561.4 60.0 561.6 60.6 560.8 61.2 561.7 61.8 562.0 62.4 561.1 63.0 561.7 63.6 561.4 64.2 560.3 64.8 561.3 65.4 562.0 66.0 560.7 66.6 559.8 67.2 561.1 67.8 560.5 68.4 562.3 69.0 560.9 69.6 560.9 70.1 560.5 70.7 561.1 71.3 560.5 71.9 560.2 72.5 560.8 73.1 560.3 73.7 561.7 74.3 560.0 74.9 560.7 75.5 560.3 76.1 559.8 76.7 561.9 77.3 559.3 77.9 561.7 78.5 559.7 79.1 560.7 79.7 562.2 80.3 559.2 80.9 559.7 81.5 561.5 82.1 560.7 82.7 560.2 83.3 560.5 83.9 559.8 84.5 560.6 85.1 561.5 85.7 560.2 86.3 560.5 86.9 561.2 87.5 561.8 88.1 560.0 88.7 560.6 89.3 560.0 89.9 559.9 90.4 560.0 91.0 559.9 91.6 559.1 92.2 558.9 92.8 559.7 93.4 560.3 94.0 561.0 94.6 559.8 95.2 560.1 95.8 560.6 96.4 560.6 97.0 560.0 97.6 560.1 98.2 561.4 98.8 559.8 99.4 559.7 100.0 558.9 100.6 560.3 101.2 559.8 101.8 561.2 102.4 559.7 103.0 560.4 103.6 560.5 104.2 560.9 104.8 558.9 105.4 560.8 106.0 559.7 106.5 559.6 107.1 559.4 107.7 559.4 108.3 559.4 108.9 558.0 109.5 559.9 110.1 559.5 110.7 558.8 111.3 559.4 111.9 561.0 112.5 559.6 113.1 559.1 113.7 560.5 114.3 558.7 114.9 559.1 115.5 558.8 116.1 559.0 116.7 559.7 117.3 559.5 117.9 558.6 118.5 559.0 119.0 559.1 119.6 558.7 120.2 558.9 120.8 558.4 121.4 558.4 122.0 558.9 122.6 558.1 123.2 559.1 123.8 558.7 124.4 558.1 125.0 558.3 125.6 558.4 126.2 558.6 126.8 558.8 127.4 558.6 128.0 558.1 128.6 559.7 129.2 559.3 129.8 558.8 130.4 559.3 131.0 558.9 131.6 558.5 132.2 558.7 132.8 560.5 133.4 559.3 134.0 559.4 134.6 558.4 135.2 559.1 135.8 560.2 136.4 558.9 137.0 559.4 137.6 559.5 138.2 559.1 138.8 559.7 139.4 558.8 140.0 559.0 140.6 558.3 141.2 560.5 141.8 559.0 142.4 558.9 143.0 559.9 143.6 558.6 144.2 559.0 144.8 558.6 145.4 559.2 146.0 559.0 146.6 559.5 147.1 558.9 147.7 558.5 148.3 558.6 148.9 558.6 149.4 558.2 150.0 559.1 150.6 558.8 151.2 558.4 151.8 557.5 152.4 558.6 153.0 557.4 153.6 558.3 154.2 558.2 154.8 557.7 155.4 557.5 156.0 557.6 156.6 559.4 157.2 557.8 157.8 557.8 158.4 558.6 159.0 558.2 159.6 558.6 160.2 557.0 160.8 557.0 161.4 560.0 162.0 557.7 162.6 557.5 163.2 557.7 163.8 558.3 164.4 556.7 165.0 557.7 165.6 557.5 166.2 557.9 166.8 557.5 167.4 557.0 168.0 556.7 168.6 555.6 169.2 557.9 169.8 556.2 170.4 556.9 171.0 558.3 171.6 556.8 172.2 557.5 172.8 556.9 173.4 557.5 174.0 557.0 174.6 556.6 175.2 557.8 175.8 556.7 176.4 555.9 177.0 556.6 177.6 557.1 178.2 556.0 178.8 557.2 179.4 557.2 180.0 558.0 180.6 556.1 181.2 557.0 181.8 555.4 182.4 556.2 183.0 556.5 183.6 556.7 184.2 556.4 184.8 556.3 185.4 556.0 185.9 556.1 186.5 556.6 187.1 556.7 187.7 556.8 188.3 557.0 188.9 557.1 189.5 555.1 190.1 555.9 190.6 556.2 191.2 555.8 191.8 556.9 192.4 556.7 193.0 556.1 193.6 556.3 194.2 557.0 194.8 555.9 195.4 556.0 195.9 556.8 196.5 556.5 197.1 557.1 197.7 556.4 198.3 556.6 198.9 555.7 199.5 555.5 200.1 556.1 200.6 554.3 201.2 556.3 201.8 556.7 202.4 556.1 203.0 555.9 203.6 556.8 204.2 556.1 204.8 556.8 205.4 557.7 206.0 556.7 206.6 556.9 207.2 556.6 207.8 556.5 208.4 556.6 209.0 556.5 209.6 557.2 210.2 555.4 210.8 556.4 211.4 557.0 211.9 556.1 212.5 556.6 213.1 556.3 213.7 557.1 214.3 557.4 214.9 557.8 215.5 557.2 216.1 556.5 216.7 557.2 217.3 557.4 217.9 558.0 218.5 555.7 219.1 557.4 219.7 556.0 220.3 557.7 220.9 557.6 221.5 557.7 222.1 558.0 222.7 557.7 223.3 557.0 223.9 557.7 224.5 558.3 225.1 557.5 225.7 557.6 226.3 556.8 226.9 558.5 227.5 557.4 228.1 557.3 228.6 557.5 229.2 557.3 229.8 557.7 230.4 558.8 231.0 558.5 231.6 559.0 232.2 559.1 232.8 557.5 233.4 558.5 234.0 559.2 234.6 559.8 235.2 557.3 235.8 557.4 236.4 558.7 237.0 558.2 237.6 557.8 238.2 558.7 238.8 557.9 239.4 556.9 240.0 558.5 240.6 558.6 241.2 558.9 241.8 559.1 242.4 558.6 243.0 558.4 243.6 558.1 244.2 557.4 244.8 558.3 245.4 559.2 245.9 559.0 246.5 560.0 247.1 558.5 247.7 557.4 248.3 559.2 248.9 559.3 249.5 557.9 250.1 557.6 250.7 558.8 251.3 559.1 251.9 557.9 252.5 558.5 253.1 558.2 253.7 557.9 254.3 557.8 254.9 558.8 255.5 558.5 256.1 558.3 256.7 557.0 257.3 559.9 257.9 558.2 258.5 558.7 259.1 558.0 259.7 559.1 260.3 557.8 260.9 558.9 261.5 558.7 262.1 559.5 262.6 558.1 263.2 558.4 263.8 558.7 264.4 560.3 265.0 557.9 265.6 559.1 266.2 558.5 266.8 559.1 267.4 559.4 268.0 559.1 268.6 559.1 269.2 559.2 269.8 558.6 270.4 558.9 271.0 557.9 271.6 558.8 272.2 558.5 272.8 558.8 273.4 559.5 274.0 559.3 274.6 559.3 275.2 559.7 275.8 557.4 276.4 559.3 277.0 559.0 277.6 558.9 278.2 558.1 278.8 559.4 279.4 559.8 280.0 559.7 280.6 558.9 281.2 559.4 281.8 559.6 282.4 560.2 283.0 559.8 283.6 559.1 284.2 559.1 284.8 559.1 285.4 559.2 286.0 558.7 286.6 559.5 287.2 558.5 287.8 558.5 288.4 559.2 289.0 558.6 289.6 558.8 290.2 557.6 290.8 559.5 291.4 559.0 292.0 558.9 292.6 559.3 293.2 559.1 293.8 558.5 294.4 560.3 295.0 558.7 295.6 559.6 296.2 560.2 296.8 558.5 297.4 559.0 297.9 558.3 298.5 559.5 299.1 558.6 299.7 558.0 300.3 559.6 300.9 559.3 301.5 558.1 302.1 559.5 302.7 558.8 303.3 560.4 303.8 559.7 304.4 558.2 305.0 558.3 305.6 557.9 306.2 558.6 306.8 558.5 307.4 558.9 308.0 558.4 308.6 557.4 309.2 557.8 309.7 559.2 310.3 559.0 310.9 558.1 311.5 558.1 312.1 558.1 312.7 558.2 313.3 557.0 313.9 558.7 314.5 557.6 315.1 558.1 315.6 556.3 316.2 558.1 316.8 558.9 317.4 556.4 318.0 558.9 318.6 558.2 319.2 557.3 319.8 556.7 320.4 558.6 320.9 557.9 321.5 558.1 322.1 557.5 322.7 557.1 323.3 558.2 323.9 557.0 324.5 558.2 325.1 556.4 325.7 556.9 326.3 556.5 326.8 558.3 327.4 556.2 328.0 556.6 328.6 557.8 329.2 557.5 329.8 558.8 330.4 558.5 331.0 557.6 331.6 557.7 332.2 555.9 332.7 556.5 333.3 556.9 333.9 557.0 334.5 556.1 335.1 556.4 335.7 556.4 336.3 557.7 336.9 557.2 337.5 556.7 338.1 556.7 338.6 557.0 339.2 556.3 339.8 556.6 340.4 555.6 341.0 557.1 341.6 557.3 342.2 556.9 342.8 556.9 343.4 556.8 343.9 557.9 344.5 556.7 345.1 555.6 345.7 555.8 346.3 556.9 346.9 557.1 347.5 556.9 348.1 556.9 348.7 556.4 349.3 555.3 349.8 555.8 350.4 555.0 351.0 555.9 351.6 555.2 352.2 556.2 352.8 556.0 353.4 554.7 354.0 556.5 354.6 556.5 355.2 555.0 355.7 556.0 356.3 556.4 356.9 555.7 357.5 556.4 358.1 555.9 358.7 556.5 359.3 555.9 359.9 555.6 360.5 556.0 361.1 556.2 361.6 555.8 362.2 555.3 362.8 555.0 363.4 555.3 364.0 555.1 364.6 555.6 365.2 555.5 365.8 555.3 366.4 555.3 367.0 555.4 367.6 556.3 368.2 556.0 368.8 554.8 369.4 555.4 369.9 554.9 370.5 555.0 371.1 554.8 371.7 554.5 372.3 554.0 372.9 553.2 373.5 555.0 374.1 555.6 374.7 554.1 375.3 555.1 375.9 554.4 376.5 554.8 377.1 554.1 377.7 554.4 378.3 554.4 378.9 552.9 379.5 554.6 380.1 554.3 380.6 552.7 381.2 554.7 381.8 554.2 382.4 554.4 383.0 554.4 383.6 553.9 384.2 553.4 384.8 553.8 385.4 553.7 386.0 555.5 386.6 555.2 387.2 553.6 387.8 553.6 388.4 554.1 389.0 554.2 389.6 553.3 390.2 553.0 390.8 555.0 391.3 554.4 391.9 552.6 392.5 552.4 393.1 553.0 393.7 553.6 394.3 553.8 394.9 553.2 395.5 552.3 396.1 553.5 396.7 553.7 397.3 553.3 397.9 552.9 398.5 553.6 399.1 553.1 399.7 552.4 400.2 553.1 400.8 552.2 401.4 553.7 402.0 553.3 402.6 552.3 403.2 553.0 403.8 553.7 404.4 551.4 405.0 552.7 405.6 553.8 406.2 551.5 406.8 552.3 407.4 551.3 408.0 552.1 408.6 550.4 409.2 550.8 409.8 551.4 410.3 551.7 410.9 551.8 411.5 551.7 412.1 552.1 412.7 551.6 413.3 551.5 413.9 550.2 414.5 550.7 415.1 552.8 415.7 552.0 416.3 550.9 416.8 550.7 417.4 550.7 418.0 549.6 418.6 551.0 419.2 549.3 419.8 549.3 420.3 550.7 420.9 547.7 421.5 549.2 422.1 547.6 422.7 548.5 423.2 549.0 423.8 549.0 424.4 549.5 425.0 549.0 425.6 549.6 426.1 549.0 426.7 549.7 427.3 549.1 427.9 550.7 428.4 549.5 429.0 551.0 429.6 550.4 430.2 550.6 430.7 551.8 431.3 551.2 431.9 549.9 432.5 551.7 433.0 549.5 433.6 551.9 434.2 551.3 434.8 550.5 435.4 551.5 436.0 551.1 436.6 552.6 437.2 550.8 437.8 552.4 438.4 551.9 439.0 550.4 439.6 550.2 440.2 551.6 440.8 550.8 441.4 551.2 442.0 551.1 442.6 550.6 443.2 551.3 443.8 551.1 444.3 550.9 444.9 552.0 445.5 553.6 446.1 553.6 446.7 552.7 447.3 553.0 447.9 553.4 448.4 554.3 449.0 553.9 449.5 553.7 450.1 554.1 450.6 555.5 451.2 556.8 451.8 554.9 452.3 554.2 452.9 556.5 453.4 556.2 453.9 556.7 454.5 557.7 455.1 557.0 455.7 556.1 456.3 555.7 456.8 557.2 457.4 556.5 458.0 557.5 458.6 556.5 459.2 557.2 459.8 556.5 460.3 557.4 460.9 557.4 461.5 558.2 462.1 558.8 462.7 557.6 463.3 556.9 463.9 558.7 464.5 557.4 465.1 557.4 465.7 557.2 466.3 557.6 466.9 557.1 467.5 556.7 468.1 556.6 468.7 555.3 469.3 555.3 469.9 555.5 470.5 555.4 471.1 555.2 471.7 555.2 472.3 554.9 472.9 554.5 473.5 553.6 474.1 555.2 474.7 555.0 475.3 553.9 475.9 554.8 476.5 554.6 477.1 554.3 477.7 552.9 478.3 553.3 478.9 553.6 479.4 555.1 480.0 553.3 480.6 553.6 481.2 552.9 481.8 553.3 482.4 553.8 483.0 552.0 483.6 551.4 484.2 553.8 484.8 553.3 485.4 552.7 486.0 553.8 486.6 553.7 487.2 551.6 487.8 552.9 488.4 553.8 489.0 552.5 489.6 552.7 490.1 553.6 490.7 552.7 491.3 552.1 491.9 552.4 492.5 551.9 493.1 553.2 493.7 551.6 494.3 553.5 494.9 551.6 495.5 552.8 496.1 551.7 496.6 552.5 497.2 553.4 497.8 553.4 498.4 553.6 499.0 552.6 499.6 552.7 500.2 552.7 500.8 553.0 501.4 552.3 502.0 553.3 502.5 552.8 503.1 553.3 503.7 552.9 504.3 553.0 504.9 552.0 505.5 552.2 506.1 551.6 506.6 552.3 507.2 552.4 507.8 553.1 508.4 551.6 509.0 554.7 509.6 552.4 510.2 553.3 510.8 553.2 511.3 550.7 511.9 552.3 512.5 553.5 513.1 550.7 513.7 553.0 514.3 551.8 514.9 552.1 515.4 552.6 516.0 551.1 516.6 552.5 517.2 551.9 517.8 551.9 518.4 552.9 519.0 554.8 519.5 552.6 520.1 552.7 520.7 552.3 521.3 551.8 521.9 552.5 522.5 553.4 523.1 552.4 523.7 552.9 524.2 552.1 524.8 554.1 525.4 551.1 526.0 552.7 526.6 552.7 527.2 552.5 527.8 551.6 528.4 551.6 529.0 552.2 529.6 552.5 530.2 551.6 530.8 551.7 531.4 552.8 532.0 553.2 532.5 552.1 533.1 552.0 533.7 552.0 534.3 554.3 534.9 552.9 535.5 552.5 536.1 553.3 536.7 554.2 537.3 553.4 537.9 551.6 538.5 552.6 539.1 552.4 539.7 552.5 540.3 551.9 540.9 552.5 541.5 552.0 542.1 553.0 542.7 552.8 543.3 551.8 543.9 551.6 544.5 552.5 545.1 553.3 545.6 553.2 546.2 552.9 546.8 550.6 547.4 552.6 548.0 552.4 548.6 552.7 549.2 552.1 549.8 552.7 550.4 552.6 551.0 555.0 551.6 553.6 552.2 552.9 552.8 553.0 553.4 552.9 554.0 553.1 554.6 552.7 555.1 552.9 555.7 553.7 556.3 553.5 556.9 553.1 557.5 553.8 558.1 553.0 558.7 552.2 559.3 551.6 559.9 552.3 560.5 552.7 561.1 553.1 561.6 553.5 562.2 552.3 562.8 552.2 563.4 553.2 564.0 553.5 564.6 552.3 565.2 552.9 565.8 553.6 566.4 552.8 567.0 552.5 567.5 551.1 568.1 553.5 568.7 553.0 569.3 552.6 569.9 552.2 570.5 551.6 571.1 552.4 571.7 552.4 572.3 553.2 572.9 551.6 573.5 553.4 574.0 552.4 574.6 553.2 575.2 551.6 575.8 552.6 576.4 553.1 577.0 552.4 577.6 551.2 578.2 552.0 578.8 552.6 579.4 551.3 579.9 551.2 580.5 552.4 581.1 551.6 581.7 552.7 582.3 551.4 582.9 550.9 583.5 551.6 584.1 553.2 584.7 551.6 585.3 552.2 585.8 552.3 586.4 551.5 587.0 552.9 587.6 552.3 588.2 552.4 588.8 550.9 589.4 550.9 590.0 550.2 590.6 552.0 591.2 551.9 591.7 552.6 592.3 553.1 592.9 551.9 593.5 551.9 594.1 552.4 594.7 553.1 595.3 551.5 595.9 552.5 596.5 551.8 597.1 551.8 597.6 552.6 598.2 551.4 598.8 551.2 599.4 552.4 600.0 552.0 600.6 551.7 601.2 551.8 601.8 552.2 602.4 551.5 603.0 552.3 603.6 552.0 604.2 552.7 604.8 552.5 605.4 552.2 606.0 551.4 606.6 551.6 607.2 551.1 607.8 553.4 608.4 551.2 609.0 551.7 609.5 552.3 610.1 550.3 610.7 550.6 611.3 550.9 611.9 550.4 612.5 550.2 613.1 550.7 613.7 551.9 614.3 551.5 614.9 551.0 615.5 550.9 616.1 549.7 616.7 551.3 617.3 551.1 617.9 550.0 618.5 550.8 619.1 550.5 619.7 550.2 620.3 549.8 620.9 550.0 621.5 549.8 622.1 550.7 622.6 550.6 623.2 550.5 623.8 550.1 624.4 549.9 625.0 551.6 625.6 548.8 626.2 550.9 626.8 550.2 627.4 550.0 628.0 549.5 628.6 549.7 629.2 548.9 629.8 548.8 630.4 549.6 631.0 548.5 631.5 550.2 632.1 550.3 632.7 547.1 633.3 548.3 633.9 549.6 634.5 549.5 635.1 549.4 635.7 549.5 636.3 549.7 636.9 549.7 637.5 550.3 638.1 549.0 638.7 549.6 639.2 547.8 639.8 548.8 640.4 548.0 641.0 549.8 641.6 550.4 642.2 549.1 642.8 547.7 643.4 548.5 644.0 548.6 644.6 548.6 645.2 549.2 645.8 549.1 646.4 546.5 647.0 549.2 647.6 547.9 648.1 547.8 648.7 549.1 649.3 547.9 649.9 547.1 650.5 547.1 651.1 548.0 651.7 548.5 652.3 549.0 652.9 547.9 653.5 547.8 654.0 549.4 654.6 548.0 655.2 549.4 655.8 548.7 656.4 548.7 657.0 548.5 657.6 549.0 658.2 548.5 658.7 548.5 659.3 548.9 659.9 548.6 660.5 549.4 661.1 549.3 661.7 549.2 662.3 549.3 662.9 549.4 663.4 550.8 664.0 549.7 664.6 549.4 665.2 549.7 665.8 550.4 666.4 549.9 667.0 550.0 667.5 550.0 668.1 550.4 668.7 550.7 669.3 550.8 669.9 549.4 670.5 549.9 671.1 548.9 671.7 551.4 672.2 551.7 672.8 551.9 673.4 551.2 674.0 552.0 674.6 551.1 675.2 551.0 675.8 550.0 676.4 550.4 677.0 550.5 677.5 551.5 678.1 552.0 678.7 550.5 679.3 551.0 679.9 550.9 680.5 550.1 681.1 549.4 681.7 550.0 682.3 549.5 682.9 550.2 683.4 550.3 684.0 550.2 684.6 550.2 685.2 550.6 685.8 549.6 686.4 550.8 687.0 549.0 687.6 550.1 688.2 550.3 688.8 549.4 689.3 548.8 689.9 550.3 690.5 549.4 691.1 550.3 691.7 550.3 692.3 549.7 692.9 549.6 693.5 550.3 694.1 549.8 694.6 548.8 695.2 549.6 695.8 549.8 696.4 549.5 697.0 549.4 697.6 549.2 698.2 549.1 698.8 548.5 699.4 548.1 700.0 549.9 700.5 548.6 701.1 549.1 701.7 547.9 702.3 549.0 702.9 548.3 703.5 550.8 704.1 548.0 704.7 548.0 705.3 549.3 705.9 549.4 706.5 547.1 707.1 548.6 707.7 549.0 708.3 547.5 708.9 548.8 709.5 547.9 710.1 547.5 710.7 547.9 711.3 547.8 711.9 547.1 712.5 549.6 713.1 547.6 713.7 547.4 714.3 548.4 714.9 547.7 715.5 548.7 716.1 547.5 716.7 547.9 717.3 547.7 717.9 547.7 718.5 547.3 719.1 547.4 719.6 548.5 720.2 546.9 720.8 546.9 721.4 547.0 722.0 547.6 722.6 547.4 723.2 547.7 723.8 546.1 724.4 547.1 725.0 546.8 725.6 546.7 726.2 546.9 726.8 545.4 727.4 546.9 728.0 546.8 728.6 545.6 729.2 546.5 729.8 547.6 730.4 546.2 731.0 546.8 731.6 546.2 732.2 545.7 732.8 545.6 733.4 545.9 734.0 547.0 734.6 546.6 735.2 545.5 735.8 546.7 736.4 545.9 737.0 545.6 737.6 546.4 738.2 545.5 738.8 545.1 739.3 547.1 739.9 545.0 740.5 546.7 741.1 545.3 741.7 546.4 742.3 546.3 742.9 546.2 743.5 545.0 744.1 546.5 744.7 546.6 745.3 546.0 745.9 546.6 746.5 547.4 747.0 546.3 747.6 547.0 748.2 546.1 748.8 547.2 749.4 547.4 750.0 548.7 750.6 547.7 751.2 547.5 751.7 548.2 752.3 546.7 752.9 548.2 753.5 547.2 754.0 547.2 754.6 548.5 755.2 548.0 755.8 548.8 756.4 547.0 756.9 548.3 757.5 547.8 758.1 548.1 758.7 547.0 759.3 549.1 759.8 548.7 760.4 547.9 761.0 547.8 761.6 548.2 762.1 549.9 762.7 548.9 763.3 548.9 763.9 549.3 764.5 548.9 765.1 549.0 765.7 549.2 766.3 548.9 766.9 549.1 767.5 547.6 768.1 548.4 768.7 548.0 769.3 548.3 769.9 548.1 770.5 547.6 771.1 547.7 771.7 548.5 772.2 547.3 772.8 546.8 773.4 548.0 774.0 548.1 774.6 547.2 775.2 547.4 775.8 546.6 776.4 546.9 777.0 547.8 777.6 547.5 778.2 546.9 778.8 546.5 779.4 545.5 780.0 546.8 780.6 546.8 781.2 547.1 781.8 547.7 782.4 546.4 783.0 546.7 783.6 545.2 784.2 546.7 784.8 546.4 785.4 546.7 786.0 546.1 786.6 545.9 787.2 546.5 787.8 544.9 788.4 545.7 788.9 545.9 789.5 544.5 790.1 544.2 790.7 545.2 791.3 544.9 791.9 545.1 792.5 545.1 793.1 544.0 793.7 544.7 794.3 545.1 794.9 544.0 795.5 544.0 796.1 543.3 796.7 544.6 797.3 545.2 797.7 543.6 798.0 545.6 798.4 546.3 798.7 545.9 799.1 546.6 799.4 546.7 799.8 547.5 800.1 548.7 800.5 549.7 800.8 549.9 801.2 551.0 801.8 550.4 802.4 549.3 803.0 550.9 803.5 550.5 804.1 549.1 804.7 550.6 805.3 549.5 805.9 549.1 806.5 550.2 807.1 547.0 807.7 547.4 808.2 548.8 808.8 548.0 809.4 547.4 810.0 548.9 810.6 548.0 811.2 546.6 811.8 546.9 812.4 547.7 812.9 548.2 813.5 545.5 814.1 546.8 814.7 546.2 815.3 545.1 815.9 546.0 816.5 544.9 817.0 545.4 817.6 546.7 818.2 545.8 818.8 545.8 819.4 545.5 820.0 545.2 820.6 545.4 821.2 543.8 821.7 544.2 822.3 544.8 822.9 543.6 823.5 543.6 824.1 544.7 824.7 544.8 825.3 543.3 825.9 543.1 826.5 544.0 827.1 543.7 827.7 543.0 828.2 543.8 828.8 543.8 829.4 543.4 830.0 545.3 830.6 544.1 831.2 543.7 831.8 543.8 832.4 545.0 833.0 543.7 833.6 542.4 834.2 543.0 834.8 542.8 835.4 542.3 836.0 542.8 836.5 542.8 837.1 542.5 837.7 542.1 838.3 543.0 838.9 541.2 839.5 542.8 840.1 542.2 840.7 542.3 841.3 540.5 841.9 543.2 842.5 540.8 843.1 541.3 843.7 542.3 844.3 541.4 844.9 541.4 845.4 540.1 846.0 541.3 846.6 541.7 847.2 541.9 847.8 541.2 848.4 541.5 849.0 541.6 849.6 540.8 850.2 540.7 850.8 542.6 851.3 540.7 851.9 542.2 852.5 541.4 853.1 542.4 853.6 540.9 854.2 541.8 854.8 541.7 855.4 541.3 856.0 541.7 856.5 541.0 857.1 541.5 857.7 541.3 858.3 542.1 858.8 541.5 859.4 540.7 860.0 541.4 860.6 541.7 861.2 541.2 861.7 542.9 862.3 542.4 862.9 542.8 863.5 541.8 864.0 542.2 864.6 543.3 865.2 541.7 865.8 543.1 866.4 543.0 866.9 542.7 867.5 543.2 868.1 542.5 868.7 543.5 869.2 542.7 869.8 542.7 870.4 544.7 871.0 543.2 871.6 542.2 872.2 544.3 872.8 543.1 873.4 541.2 874.0 543.6 874.5 544.2 875.1 543.8 875.7 544.7 876.3 543.4 876.9 543.9 877.5 542.8 878.1 543.6 878.7 544.5 879.3 543.6 879.9 543.2 880.5 541.6 881.1 542.5 881.7 541.7 882.3 543.0 882.9 541.8 883.5 542.3 884.1 541.2 884.7 543.1 885.3 540.8 885.9 541.5 886.5 543.1 887.1 541.2 887.7 540.3 888.3 541.3 888.9 541.6 889.5 541.4 890.1 539.5 890.7 540.9 891.3 539.3 891.9 542.0 892.5 540.7 893.1 540.3 893.7 541.1 894.3 540.9 894.9 539.8 895.5 541.7 896.1 540.3 896.7 539.3 897.3 541.4 897.9 541.5 898.5 541.3 899.1 540.7 899.7 539.7 900.3 540.9 900.9 541.5 901.5 540.8 902.1 541.4 902.6 539.9 903.2 541.2 903.8 541.2 904.4 539.6 904.9 539.6 905.5 540.3 906.1 541.0 906.6 541.3 907.2 540.9 907.8 541.1 908.3 541.1 908.9 541.4 909.5 541.8 910.1 541.8 910.6 541.5 911.2 541.8 911.8 541.0 912.4 541.6 912.9 540.4 913.5 541.6 914.1 540.2 914.7 540.1 915.2 539.1 915.8 539.1 916.4 539.1 917.0 538.7 917.5 538.0 918.1 537.3 918.7 538.1 919.3 538.1 919.8 538.4 920.4 538.8 921.0 537.6 921.6 536.4 922.2 537.7 922.7 536.4 923.3 536.8 923.9 538.3 924.5 537.9 925.0 537.0 925.6 537.0 926.2 537.3 926.8 536.1 927.4 537.6 927.9 537.0 928.5 538.4 929.1 536.4 929.7 537.8 930.3 536.5 930.8 537.7 931.4 536.2 932.0 537.3 932.6 536.5 933.2 536.1 933.8 536.5 934.4 536.9 935.0 536.7 935.6 537.5 936.1 536.9 936.7 534.4 937.3 535.9 937.9 534.7 938.5 535.7 939.1 536.4 939.7 534.9 940.3 535.0 940.9 535.8 941.5 535.4 942.1 536.7 942.7 535.7 943.3 535.8 943.9 536.6 944.5 534.9 945.0 535.2 945.6 534.4 946.2 535.2 946.8 535.7 947.4 535.8 948.0 534.8 948.6 534.2 949.2 534.4 949.8 534.1 950.3 535.4 950.9 536.4 951.5 534.0 952.0 534.3 952.6 536.9 953.2 535.0 953.8 536.5 954.4 535.6 954.9 537.2 955.5 537.4 956.1 536.7 956.6 536.8 957.2 536.0 957.8 536.1 958.4 536.7 959.0 535.9 959.5 534.3 960.1 533.9 960.7 534.1 961.2 533.8 961.8 533.7 962.4 532.9 963.0 533.7 963.6 533.2 964.2 533.3 964.7 533.0 965.3 533.3 965.9 531.9 966.5 533.8 967.1 532.8 967.7 532.8 968.3 532.8 968.8 533.0 969.4 532.7 970.0 532.2 970.6 531.8 971.2 530.7 971.8 531.9 972.4 531.4 972.9 531.3 973.5 533.1 974.1 530.1 974.7 531.3 975.3 532.0 975.9 531.7 976.5 531.8 977.0 530.0 977.6 530.1 978.2 531.1 978.8 530.5" stroke="#000" stroke-width="6.3" fill="none" stroke-linejoin="round"/>
<path d="M29 562.5H985" stroke="#ff22dd" stroke-width="1" fill="none"/>
<path d="M30.5 23V612 M30 23.5H981 M980.5 23V612 M30 611.5H981 M30.5 612V616 M61.5 612V616 M91.5 612V616 M122.5 612V616 M152.5 612V616 M183.5 612V616 M214.5 612V616 M244.5 612V616 M275.5 612V616 M306.5 612V616 M336.5 612V616 M367.5 612V616 M397.5 612V616 M428.5 612V616 M459.5 612V616 M489.5 612V616 M520.5 612V616 M550.5 612V616 M581.5 612V616 M611.5 612V616 M641.5 612V616 M672.5 612V616 M703.5 612V616 M733.5 612V616 M764.5 612V616 M794.5 612V616 M825.5 612V616 M856.5 612V616 M886.5 612V616 M916.5 612V616 M947.5 612V616 M977.5 612V616 M981 43.5H985 M981 65.5H985 M981 86.5H985 M981 108.5H985 M981 129.5H985 M981 151.5H985 M981 173.5H985 M981 194.5H985 M981 216.5H985 M981 238.5H985 M981 259.5H985 M981 281.5H985 M981 302.5H985 M981 324.5H985 M981 346.5H985 M981 367.5H985 M981 389.5H985 M981 410.5H985 M981 432.5H985 M981 454.5H985 M981 475.5H985 M981 497.5H985 M981 519.5H985 M981 540.5H985 M981 562.5H985 M981 583.5H985 M981 605.5H985" stroke="#000" stroke-width="1" fill="none"/>
<text x="164.3" y="20" font-size="18" fill="#0000ff" textLength="724" lengthAdjust="spacingAndGlyphs">GLOBAL MARKETS COMPOSITE INDICES PERCENTAGE CHANGE SINCE 1995</text>
<text class="b" x="493.5" y="37.8" font-size="15" fill="#000" textLength="74.4" lengthAdjust="spacingAndGlyphs">01-09-2026</text>
<text x="988.6" y="49" class="b" font-size="15" fill="#000" textLength="57.66" lengthAdjust="spacingAndGlyphs">12000 %</text>
<text x="988.6" y="71" class="b" font-size="15" fill="#000" textLength="57.66" lengthAdjust="spacingAndGlyphs">11500 %</text>
<text x="988.6" y="92" class="b" font-size="15" fill="#000" textLength="57.66" lengthAdjust="spacingAndGlyphs">11000 %</text>
<text x="988.6" y="114" class="b" font-size="15" fill="#000" textLength="57.66" lengthAdjust="spacingAndGlyphs">10500 %</text>
<text x="988.6" y="135" class="b" font-size="15" fill="#000" textLength="57.66" lengthAdjust="spacingAndGlyphs">10000 %</text>
<text x="988.6" y="157" class="b" font-size="15" fill="#000" textLength="49.47" lengthAdjust="spacingAndGlyphs">9500 %</text>
<text x="988.6" y="179" class="b" font-size="15" fill="#000" textLength="49.47" lengthAdjust="spacingAndGlyphs">9000 %</text>
<text x="988.6" y="200" class="b" font-size="15" fill="#000" textLength="49.47" lengthAdjust="spacingAndGlyphs">8500 %</text>
<text x="988.6" y="222" class="b" font-size="15" fill="#000" textLength="49.47" lengthAdjust="spacingAndGlyphs">8000 %</text>
<text x="988.6" y="244" class="b" font-size="15" fill="#000" textLength="49.47" lengthAdjust="spacingAndGlyphs">7500 %</text>
<text x="988.6" y="265" class="b" font-size="15" fill="#000" textLength="49.47" lengthAdjust="spacingAndGlyphs">7000 %</text>
<text x="988.6" y="287" class="b" font-size="15" fill="#000" textLength="49.47" lengthAdjust="spacingAndGlyphs">6500 %</text>
<text x="988.6" y="308" class="b" font-size="15" fill="#000" textLength="49.47" lengthAdjust="spacingAndGlyphs">6000 %</text>
<text x="988.6" y="330" class="b" font-size="15" fill="#000" textLength="49.47" lengthAdjust="spacingAndGlyphs">5500 %</text>
<text x="988.6" y="352" class="b" font-size="15" fill="#000" textLength="49.47" lengthAdjust="spacingAndGlyphs">5000 %</text>
<text x="988.6" y="373" class="b" font-size="15" fill="#000" textLength="49.47" lengthAdjust="spacingAndGlyphs">4500 %</text>
<text x="988.6" y="395" class="b" font-size="15" fill="#000" textLength="49.47" lengthAdjust="spacingAndGlyphs">4000 %</text>
<text x="988.6" y="416" class="b" font-size="15" fill="#000" textLength="49.47" lengthAdjust="spacingAndGlyphs">3500 %</text>
<text x="988.6" y="438" class="b" font-size="15" fill="#000" textLength="49.47" lengthAdjust="spacingAndGlyphs">3000 %</text>
<text x="988.6" y="460" class="b" font-size="15" fill="#000" textLength="49.47" lengthAdjust="spacingAndGlyphs">2500 %</text>
<text x="988.6" y="481" class="b" font-size="15" fill="#000" textLength="49.47" lengthAdjust="spacingAndGlyphs">2000 %</text>
<text x="988.6" y="503" class="b" font-size="15" fill="#000" textLength="49.47" lengthAdjust="spacingAndGlyphs">1500 %</text>
<text x="988.6" y="525" class="b" font-size="15" fill="#000" textLength="49.47" lengthAdjust="spacingAndGlyphs">1000 %</text>
<text x="988.6" y="546" class="b" font-size="15" fill="#000" textLength="41.29" lengthAdjust="spacingAndGlyphs">500 %</text>
<text x="988.6" y="568" class="b" font-size="15" fill="#000" textLength="24.92" lengthAdjust="spacingAndGlyphs">0 %</text>
<text x="988.6" y="589" class="b" font-size="15" fill="#000" textLength="46.35" lengthAdjust="spacingAndGlyphs">-500 %</text>
<text x="988.6" y="611" class="b" font-size="15" fill="#000" textLength="54.54" lengthAdjust="spacingAndGlyphs">-1000 %</text>
<text class="b" x="14.93" y="630.9" font-size="15" fill="#000" textLength="31.14" lengthAdjust="spacingAndGlyphs">1995</text>
<text class="b" x="45.93" y="630.9" font-size="15" fill="#000" textLength="31.14" lengthAdjust="spacingAndGlyphs">1996</text>
<text class="b" x="75.93" y="630.9" font-size="15" fill="#000" textLength="31.14" lengthAdjust="spacingAndGlyphs">1997</text>
<text class="b" x="106.93" y="630.9" font-size="15" fill="#000" textLength="31.14" lengthAdjust="spacingAndGlyphs">1998</text>
<text class="b" x="136.93" y="630.9" font-size="15" fill="#000" textLength="31.14" lengthAdjust="spacingAndGlyphs">1999</text>
<text class="b" x="167.93" y="630.9" font-size="15" fill="#000" textLength="31.14" lengthAdjust="spacingAndGlyphs">2000</text>
<text class="b" x="198.93" y="630.9" font-size="15" fill="#000" textLength="31.14" lengthAdjust="spacingAndGlyphs">2001</text>
<text class="b" x="228.93" y="630.9" font-size="15" fill="#000" textLength="31.14" lengthAdjust="spacingAndGlyphs">2002</text>
<text class="b" x="259.93" y="630.9" font-size="15" fill="#000" textLength="31.14" lengthAdjust="spacingAndGlyphs">2003</text>
<text class="b" x="290.93" y="630.9" font-size="15" fill="#000" textLength="31.14" lengthAdjust="spacingAndGlyphs">2004</text>
<text class="b" x="320.93" y="630.9" font-size="15" fill="#000" textLength="31.14" lengthAdjust="spacingAndGlyphs">2005</text>
<text class="b" x="351.93" y="630.9" font-size="15" fill="#000" textLength="31.14" lengthAdjust="spacingAndGlyphs">2006</text>
<text class="b" x="381.93" y="630.9" font-size="15" fill="#000" textLength="31.14" lengthAdjust="spacingAndGlyphs">2007</text>
<text class="b" x="412.93" y="630.9" font-size="15" fill="#000" textLength="31.14" lengthAdjust="spacingAndGlyphs">2008</text>
<text class="b" x="443.93" y="630.9" font-size="15" fill="#000" textLength="31.14" lengthAdjust="spacingAndGlyphs">2009</text>
<text class="b" x="473.93" y="630.9" font-size="15" fill="#000" textLength="31.14" lengthAdjust="spacingAndGlyphs">2010</text>
<text class="b" x="504.93" y="630.9" font-size="15" fill="#000" textLength="31.14" lengthAdjust="spacingAndGlyphs">2011</text>
<text class="b" x="534.93" y="630.9" font-size="15" fill="#000" textLength="31.14" lengthAdjust="spacingAndGlyphs">2012</text>
<text class="b" x="565.93" y="630.9" font-size="15" fill="#000" textLength="31.14" lengthAdjust="spacingAndGlyphs">2013</text>
<text class="b" x="595.93" y="630.9" font-size="15" fill="#000" textLength="31.14" lengthAdjust="spacingAndGlyphs">2014</text>
<text class="b" x="625.93" y="630.9" font-size="15" fill="#000" textLength="31.14" lengthAdjust="spacingAndGlyphs">2015</text>
<text class="b" x="656.93" y="630.9" font-size="15" fill="#000" textLength="31.14" lengthAdjust="spacingAndGlyphs">2016</text>
<text class="b" x="687.93" y="630.9" font-size="15" fill="#000" textLength="31.14" lengthAdjust="spacingAndGlyphs">2017</text>
<text class="b" x="717.93" y="630.9" font-size="15" fill="#000" textLength="31.14" lengthAdjust="spacingAndGlyphs">2018</text>
<text class="b" x="748.93" y="630.9" font-size="15" fill="#000" textLength="31.14" lengthAdjust="spacingAndGlyphs">2019</text>
<text class="b" x="778.93" y="630.9" font-size="15" fill="#000" textLength="31.14" lengthAdjust="spacingAndGlyphs">2020</text>
<text class="b" x="809.93" y="630.9" font-size="15" fill="#000" textLength="31.14" lengthAdjust="spacingAndGlyphs">2021</text>
<text class="b" x="840.93" y="630.9" font-size="15" fill="#000" textLength="31.14" lengthAdjust="spacingAndGlyphs">2022</text>
<text class="b" x="870.93" y="630.9" font-size="15" fill="#000" textLength="31.14" lengthAdjust="spacingAndGlyphs">2023</text>
<text class="b" x="900.93" y="630.9" font-size="15" fill="#000" textLength="31.14" lengthAdjust="spacingAndGlyphs">2024</text>
<text class="b" x="931.93" y="630.9" font-size="15" fill="#000" textLength="31.14" lengthAdjust="spacingAndGlyphs">2025</text>
<text class="b" x="961.93" y="630.9" font-size="15" fill="#000" textLength="31.14" lengthAdjust="spacingAndGlyphs">2026</text>
<rect x="42" y="39" width="23" height="8" fill="#000"/>
<text class="b" x="75.8" y="47.6" font-size="15" fill="#000" textLength="126.4" lengthAdjust="spacingAndGlyphs">Global Composite</text>
<rect x="42" y="63" width="23" height="8" fill="#ff0000"/>
<text class="b" x="75.8" y="71.6" font-size="15" fill="#000" textLength="143.8" lengthAdjust="spacingAndGlyphs">Americas Composite</text>
<rect x="42" y="87" width="23" height="8" fill="#0000ff"/>
<text class="b" x="75.8" y="95.6" font-size="15" fill="#000" textLength="118.1" lengthAdjust="spacingAndGlyphs">Asian Composite</text>
<rect x="42" y="111" width="23" height="8" fill="#12b418"/>
<text class="b" x="75.8" y="119.6" font-size="15" fill="#000" textLength="149.5" lengthAdjust="spacingAndGlyphs">European Composite</text>
<rect x="42" y="135" width="23" height="8" fill="#a8846a"/>
<text class="b" x="75.8" y="143.6" font-size="15" fill="#000" textLength="176.2" lengthAdjust="spacingAndGlyphs">United States Composite</text>
<text x="443.2" y="647" font-size="11" style="font-weight:normal" fill="#000" textLength="222.4" lengthAdjust="spacingAndGlyphs">world gold charts © www.goldchartsrus.com</text>
</svg></body></html>
